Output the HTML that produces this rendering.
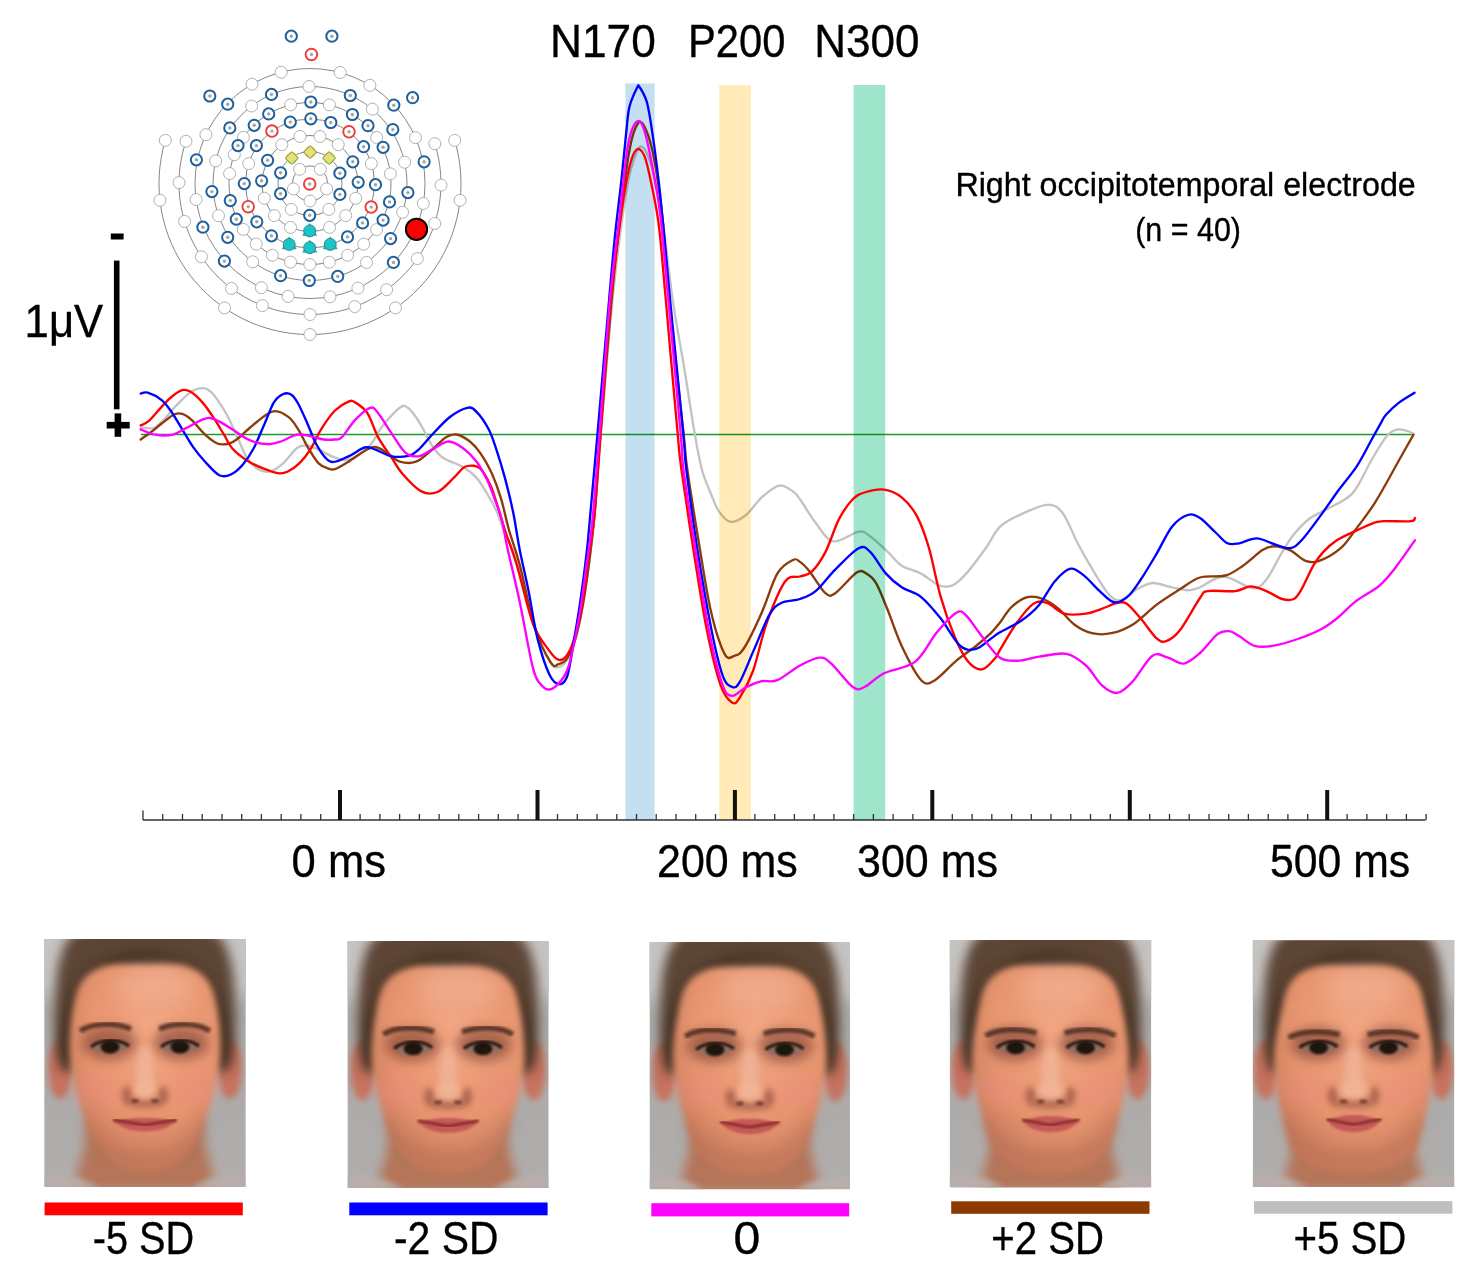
<!DOCTYPE html><html><head><meta charset="utf-8"><style>html,body{margin:0;padding:0;background:#fff;overflow:hidden}svg{display:block}text{font-family:"Liberation Sans",sans-serif}</style></head><body>
<svg width="1483" height="1279" viewBox="0 0 1483 1279">
<defs>
<filter id="b1" x="-20%" y="-20%" width="140%" height="140%"><feGaussianBlur stdDeviation="1.2"/></filter>
<filter id="b2b" x="-30%" y="-30%" width="160%" height="160%"><feGaussianBlur stdDeviation="1.8"/></filter>
<filter id="b2" x="-60%" y="-60%" width="220%" height="220%"><feGaussianBlur stdDeviation="3"/></filter>
<filter id="b3" x="-100%" y="-100%" width="300%" height="300%"><feGaussianBlur stdDeviation="6"/></filter>
<filter id="b4" x="-100%" y="-100%" width="300%" height="300%"><feGaussianBlur stdDeviation="9"/></filter>
<linearGradient id="bg" x1="0" y1="0" x2="0" y2="1"><stop offset="0" stop-color="#a8a7a6"/><stop offset="1" stop-color="#b0aeac"/></linearGradient>
<radialGradient id="skin" cx="0.55" cy="0.32" r="0.72"><stop offset="0" stop-color="#f4a884"/><stop offset="0.6" stop-color="#e6946e"/><stop offset="1" stop-color="#c07458"/></radialGradient>
</defs>
<rect width="1483" height="1279" fill="#fff"/>
<path d="M143.0,820V810.5M162.7,820V814.0M182.5,820V814.0M202.2,820V814.0M222.0,820V814.0M241.7,820V814.0M261.4,820V814.0M281.2,820V814.0M300.9,820V814.0M320.7,820V814.0M340.4,820V814.0M360.1,820V814.0M379.9,820V814.0M399.6,820V814.0M419.4,820V814.0M439.1,820V814.0M458.8,820V814.0M478.6,820V814.0M498.3,820V814.0M518.1,820V814.0M537.8,820V814.0M557.5,820V814.0M577.3,820V814.0M597.0,820V814.0M616.8,820V814.0M636.5,820V814.0M656.2,820V814.0M676.0,820V814.0M695.7,820V814.0M715.5,820V814.0M735.2,820V814.0M754.9,820V814.0M774.7,820V814.0M794.4,820V814.0M814.2,820V814.0M833.9,820V814.0M853.6,820V814.0M873.4,820V814.0M893.1,820V814.0M912.9,820V814.0M932.6,820V814.0M952.3,820V814.0M972.1,820V814.0M991.8,820V814.0M1011.6,820V814.0M1031.3,820V814.0M1051.0,820V814.0M1070.8,820V814.0M1090.5,820V814.0M1110.3,820V814.0M1130.0,820V814.0M1149.7,820V814.0M1169.5,820V814.0M1189.2,820V814.0M1209.0,820V814.0M1228.7,820V814.0M1248.4,820V814.0M1268.2,820V814.0M1287.9,820V814.0M1307.7,820V814.0M1327.4,820V814.0M1347.1,820V814.0M1366.9,820V814.0M1386.6,820V814.0M1406.4,820V814.0M1426.1,820V814.0" stroke="#333" stroke-width="1.3" fill="none"/>
<path d="M143,820H1425.5" stroke="#333" stroke-width="1.6" fill="none"/>
<path d="M340.0,820V790M537.5,820V790M734.9,820V790M932.3,820V790M1129.8,820V790M1327.2,820V790" stroke="#111" stroke-width="4" fill="none"/>
<path d="M141,434.5H1412" stroke="#1a9a2a" stroke-width="1.6" fill="none"/>
<path d="M140.7,427.3 C142.9,427.4 149.9,429.4 153.9,428.0 C157.9,426.6 161.1,422.2 164.7,418.6 C168.3,415.0 171.0,410.9 175.5,406.4 C180.0,401.9 186.9,394.6 191.6,391.6 C196.3,388.6 200.2,387.8 203.8,388.2 C207.4,388.6 209.4,389.9 213.2,394.3 C217.0,398.7 222.6,407.3 226.7,414.5 C230.8,421.7 234.1,430.2 237.5,437.4 C240.9,444.6 243.3,452.3 246.9,457.7 C250.5,463.1 255.1,467.6 259.1,469.8 C263.2,472.0 267.2,472.2 271.2,471.1 C275.2,470.0 279.0,466.9 283.3,463.1 C287.6,459.3 293.0,451.1 296.8,448.2 C300.6,445.3 302.7,445.3 306.3,445.5 C309.9,445.7 313.6,447.6 318.4,449.6 C323.2,451.6 330.0,456.0 335.0,457.7 C340.0,459.4 342.9,461.5 348.5,459.7 C354.1,457.9 363.1,452.4 368.7,446.9 C374.3,441.4 377.0,433.1 382.2,426.6 C387.4,420.1 395.4,410.9 399.7,407.8 C404.0,404.7 404.6,405.6 407.8,407.8 C411.0,410.0 414.6,414.9 418.6,421.2 C422.7,427.5 428.1,439.4 432.1,445.5 C436.2,451.6 437.7,454.1 442.9,457.7 C448.1,461.3 457.5,463.7 463.1,467.1 C468.7,470.5 472.6,473.4 476.6,477.9 C480.7,482.4 484.0,488.5 487.4,494.1 C490.8,499.7 494.1,505.6 496.8,511.6 C499.5,517.6 500.1,521.3 503.6,530.0 C507.1,538.7 512.9,547.8 518.0,564.0 C523.1,580.2 528.7,610.7 534.0,627.0 C539.3,643.3 545.9,655.3 550.0,662.0 C554.1,668.7 555.6,667.4 558.4,667.1 C561.2,666.8 564.1,665.0 567.0,660.0 C569.9,655.0 573.0,648.3 576.0,637.0 C579.0,625.7 582.0,611.5 585.0,592.0 C588.0,572.5 591.3,546.3 594.0,520.0 C596.7,493.7 597.9,470.7 601.0,434.0 C604.1,397.3 608.3,340.4 612.5,300.0 C616.7,259.6 622.3,216.3 626.3,191.7 C630.3,167.1 633.6,159.3 636.6,152.2 C639.6,145.0 641.4,145.1 644.3,148.8 C647.2,152.5 650.8,163.2 653.8,174.6 C656.8,186.0 659.2,196.6 662.4,217.5 C665.5,238.4 669.2,275.5 672.7,300.0 C676.2,324.5 679.9,341.9 683.6,364.3 C687.3,386.7 691.7,416.6 694.8,434.2 C697.9,451.8 699.3,460.1 702.0,470.0 C704.7,479.9 708.0,486.6 710.8,493.5 C713.6,500.4 715.4,506.4 718.7,511.1 C722.0,515.8 725.9,521.1 730.4,521.8 C734.9,522.4 740.8,519.1 746.0,515.0 C751.2,510.9 756.2,502.3 761.7,497.4 C767.2,492.5 774.1,486.6 779.3,485.6 C784.5,484.6 789.5,489.2 793.0,491.5 C796.5,493.8 796.2,494.1 800.0,499.3 C803.8,504.5 810.1,515.8 815.6,522.8 C821.1,529.8 826.0,539.9 833.2,541.4 C840.4,542.9 852.5,532.4 858.7,531.6 C864.9,530.8 865.5,533.1 870.4,536.5 C875.3,539.9 882.8,547.2 888.0,552.1 C893.2,557.0 896.2,562.2 901.7,565.8 C907.2,569.4 915.0,570.4 921.2,573.6 C927.4,576.9 933.6,583.3 938.8,585.3 C944.0,587.2 947.9,587.2 952.5,585.3 C957.1,583.3 960.7,579.8 966.2,573.6 C971.7,567.4 980.1,556.0 985.7,548.2 C991.3,540.4 994.4,532.2 1000.0,526.7 C1005.6,521.2 1011.8,518.6 1019.6,515.0 C1027.4,511.4 1039.7,505.1 1046.9,504.8 C1054.1,504.5 1057.4,506.4 1062.6,513.0 C1067.8,519.6 1073.0,534.5 1078.2,544.3 C1083.4,554.1 1088.6,563.2 1093.8,571.7 C1099.0,580.2 1104.9,590.4 1109.5,595.1 C1114.1,599.8 1116.6,601.0 1121.2,600.0 C1125.8,599.0 1131.7,592.1 1136.9,589.3 C1142.1,586.5 1146.7,583.3 1152.5,583.0 C1158.3,582.7 1166.1,586.1 1172.0,587.3 C1177.9,588.5 1183.0,590.2 1187.7,590.2 C1192.4,590.2 1194.0,589.6 1200.0,587.3 C1206.0,585.0 1214.6,576.4 1223.4,576.5 C1232.2,576.6 1245.6,587.7 1252.8,588.2 C1260.0,588.7 1261.5,585.4 1266.4,579.4 C1271.3,573.4 1277.5,559.6 1282.1,552.1 C1286.7,544.6 1289.2,540.0 1293.8,534.5 C1298.3,529.0 1303.9,523.0 1309.4,518.8 C1314.9,514.6 1319.8,513.3 1327.0,509.1 C1334.2,504.9 1345.1,501.4 1352.4,493.4 C1359.7,485.4 1365.4,470.4 1371.0,461.0 C1376.6,451.6 1382.0,442.0 1386.2,436.8 C1390.4,431.6 1392.9,430.7 1396.3,429.7 C1399.7,428.7 1403.5,430.0 1406.4,430.7 C1409.3,431.4 1412.3,433.2 1413.5,433.7" stroke="#c3c3c3" stroke-width="2.35" fill="none" stroke-linejoin="round" stroke-linecap="round"/>
<path d="M140.7,439.5 C142.4,438.2 147.6,434.7 151.2,432.0 C154.8,429.3 158.2,426.2 162.0,423.3 C165.8,420.4 170.7,416.1 174.1,414.5 C177.5,412.9 179.3,412.9 182.2,413.8 C185.1,414.7 187.8,416.4 191.6,419.9 C195.4,423.4 200.8,430.8 205.1,434.7 C209.4,438.6 213.2,442.0 217.3,443.5 C221.4,445.0 226.0,444.3 229.4,443.5 C232.8,442.7 234.1,441.4 237.5,438.8 C240.9,436.2 245.1,431.8 249.6,428.0 C254.1,424.2 260.2,418.7 264.5,415.9 C268.8,413.1 271.3,410.9 275.3,411.1 C279.3,411.3 284.9,414.2 288.7,417.2 C292.5,420.2 295.0,424.4 298.2,429.3 C301.4,434.2 304.2,441.3 307.6,446.9 C311.0,452.5 315.0,459.5 318.4,463.1 C321.8,466.7 325.1,467.4 327.9,468.4 C330.7,469.4 331.6,470.2 335.0,469.1 C338.4,468.0 342.2,465.4 348.5,461.7 C354.8,458.0 366.1,448.3 372.8,447.1 C379.5,445.9 384.4,451.9 388.9,454.3 C393.4,456.7 395.2,460.5 399.7,461.7 C404.2,462.9 410.5,463.7 415.9,461.7 C421.3,459.7 427.2,453.7 432.1,449.6 C437.1,445.6 441.6,439.9 445.6,437.4 C449.7,434.9 452.3,433.8 456.4,434.5 C460.4,435.2 465.8,438.3 469.9,441.5 C473.9,444.7 477.1,448.4 480.7,453.6 C484.3,458.8 488.0,465.1 491.4,472.5 C494.8,479.9 498.0,488.5 500.9,498.1 C503.8,507.7 505.9,518.9 509.0,530.0 C512.1,541.1 515.4,548.4 519.7,564.6 C524.0,580.8 529.4,610.6 534.6,627.0 C539.8,643.4 546.9,656.5 550.9,662.7 C554.9,668.9 555.7,665.0 558.4,664.2 C561.1,663.5 564.3,662.9 567.3,658.2 C570.3,653.5 573.2,647.0 576.2,635.9 C579.2,624.8 582.1,610.6 585.1,591.3 C588.1,572.0 591.4,546.2 594.0,520.0 C596.6,493.8 597.6,470.7 600.5,434.0 C603.4,397.3 608.3,336.1 611.6,300.0 C614.9,263.9 617.2,242.7 620.2,217.5 C623.2,192.3 626.7,164.6 629.7,148.8 C632.7,133.1 635.6,126.2 638.3,123.0 C641.0,119.8 643.4,124.2 646.0,129.9 C648.6,135.6 651.1,142.8 653.8,157.4 C656.5,172.0 659.8,193.7 662.4,217.5 C665.0,241.3 665.7,263.9 669.2,300.0 C672.7,336.1 680.6,405.9 683.6,434.2 C686.6,462.5 684.8,451.6 687.4,470.0 C690.0,488.4 695.2,520.8 699.1,544.3 C703.0,567.8 706.6,592.5 710.8,610.8 C715.0,629.0 720.6,646.3 724.5,653.8 C728.4,661.3 731.0,656.8 734.3,655.8 C737.6,654.8 739.5,655.2 744.1,648.0 C748.7,640.8 756.2,625.1 761.7,612.7 C767.2,600.3 772.1,582.4 777.3,573.6 C782.5,564.8 789.2,562.0 793.0,560.0 C796.8,558.0 797.2,559.9 800.0,561.9 C802.8,563.9 805.6,566.5 809.8,571.7 C814.0,576.9 821.2,589.6 825.4,593.2 C829.6,596.8 830.0,596.6 835.2,593.2 C840.4,589.8 851.5,575.9 856.7,572.6 C861.9,569.3 863.2,571.8 866.5,573.6 C869.8,575.4 872.6,577.2 876.2,583.4 C879.8,589.6 883.8,600.4 888.0,610.8 C892.2,621.2 896.2,634.4 901.7,646.0 C907.2,657.6 915.7,674.5 921.2,680.2 C926.7,685.9 929.0,683.5 934.9,680.2 C940.8,676.9 949.5,666.3 956.4,660.6 C963.2,654.9 970.1,650.7 976.0,646.0 C981.9,641.3 987.6,636.2 991.6,632.3 C995.6,628.4 996.6,626.7 1000.0,622.5 C1003.4,618.3 1007.1,611.1 1011.7,606.9 C1016.3,602.7 1022.2,598.4 1027.4,597.1 C1032.6,595.8 1037.8,597.0 1043.0,599.0 C1048.2,601.0 1053.5,604.5 1058.7,608.8 C1063.9,613.0 1068.8,620.4 1074.3,624.5 C1079.8,628.6 1085.7,631.8 1091.9,633.2 C1098.1,634.7 1104.6,634.7 1111.4,633.2 C1118.2,631.8 1125.4,629.2 1132.9,624.5 C1140.4,619.8 1148.6,610.8 1156.4,604.9 C1164.2,599.0 1172.6,593.9 1179.9,589.3 C1187.2,584.7 1192.4,579.8 1200.0,577.5 C1207.6,575.2 1218.2,577.5 1225.4,575.5 C1232.6,573.5 1236.8,569.9 1243.0,565.7 C1249.2,561.5 1257.3,553.4 1262.5,550.1 C1267.7,546.9 1269.6,546.2 1274.2,546.2 C1278.8,546.2 1284.7,547.7 1289.9,550.1 C1295.1,552.5 1300.6,559.1 1305.5,560.9 C1310.4,562.7 1313.3,563.0 1319.2,560.9 C1325.1,558.8 1334.5,553.6 1340.7,548.2 C1346.9,542.8 1350.5,536.4 1356.3,528.6 C1362.1,520.8 1368.3,513.4 1375.8,501.3 C1383.3,489.2 1395.1,467.1 1401.4,456.0 C1407.7,444.9 1411.5,438.2 1413.5,434.7" stroke="#8c3c0a" stroke-width="2.35" fill="none" stroke-linejoin="round" stroke-linecap="round"/>
<g style="mix-blend-mode:multiply">
<rect x="625.4" y="83.5" width="29.2" height="736.5" fill="#c5dff2"/>
<rect x="719.2" y="85.2" width="31.6" height="734.8" fill="#ffeab8"/>
<rect x="853.6" y="85" width="31.6" height="735" fill="#9fe5cb"/>
</g>
<path d="M140.7,425.3 C142.0,424.6 144.9,424.4 148.5,421.2 C152.1,418.0 158.2,410.4 162.0,406.4 C165.8,402.4 168.0,399.7 171.4,397.0 C174.8,394.3 179.0,391.1 182.2,390.2 C185.3,389.3 186.9,389.6 190.3,391.6 C193.7,393.6 198.6,398.1 202.4,402.4 C206.2,406.7 209.6,411.8 213.2,417.2 C216.8,422.6 220.8,429.5 224.0,434.7 C227.2,439.9 228.3,443.9 232.1,448.2 C235.9,452.5 241.7,457.0 246.9,460.4 C252.1,463.8 257.9,466.3 263.1,468.4 C268.3,470.5 273.9,472.6 278.0,473.2 C282.1,473.8 283.8,473.5 287.4,471.8 C291.0,470.1 295.7,466.8 299.5,463.1 C303.3,459.4 306.7,455.2 310.3,449.6 C313.9,444.0 317.0,435.8 321.1,429.3 C325.2,422.8 330.4,415.1 335.0,410.5 C339.6,405.9 345.1,403.1 348.5,401.7 C351.9,400.3 352.1,400.5 355.2,402.4 C358.3,404.3 363.6,407.4 367.4,413.2 C371.2,419.0 374.2,430.0 378.2,437.4 C382.2,444.8 387.6,451.6 391.6,457.7 C395.6,463.8 397.4,468.2 402.4,473.8 C407.3,479.4 415.4,488.4 421.3,491.4 C427.2,494.4 432.1,494.2 437.5,492.0 C442.9,489.8 449.2,482.0 453.7,477.9 C458.2,473.8 461.1,469.1 464.5,467.1 C467.9,465.1 471.2,465.5 473.9,465.8 C476.6,466.1 478.0,466.0 480.7,469.1 C483.4,472.2 487.4,478.9 490.1,484.6 C492.8,490.3 494.3,495.9 496.8,503.5 C499.3,511.1 501.6,519.8 504.9,530.0 C508.2,540.2 512.0,548.9 516.7,564.6 C521.4,580.3 527.7,609.6 533.1,624.0 C538.5,638.4 545.2,644.8 549.4,650.8 C553.6,656.8 555.7,658.7 558.4,659.7 C561.1,660.7 563.3,659.7 565.8,656.7 C568.3,653.7 570.5,650.6 573.2,641.9 C575.9,633.2 579.6,618.4 582.1,604.7 C584.6,591.1 586.0,574.1 588.0,560.0 C590.0,545.9 591.9,541.0 594.0,520.0 C596.1,499.0 597.7,470.7 600.5,434.0 C603.3,397.3 607.2,337.5 610.8,300.0 C614.4,262.5 618.9,231.2 622.0,208.9 C625.1,186.6 627.3,175.9 629.7,166.0 C632.1,156.1 634.2,151.3 636.6,149.6 C639.0,147.9 641.9,150.0 644.3,155.6 C646.7,161.2 648.8,171.3 651.2,183.1 C653.6,194.8 656.5,206.6 658.9,226.1 C661.3,245.6 662.7,265.3 665.8,300.0 C668.9,334.7 675.1,405.9 677.7,434.2 C680.3,462.5 678.9,451.0 681.5,470.0 C684.1,489.0 689.0,521.5 693.2,548.2 C697.4,574.9 702.3,607.5 706.9,630.3 C711.5,653.1 716.4,673.0 720.6,685.1 C724.9,697.2 729.1,700.8 732.4,702.7 C735.7,704.7 736.8,702.1 740.2,696.8 C743.6,691.5 748.5,683.5 753.0,671.0 C757.5,658.5 761.6,636.9 767.0,622.0 C772.4,607.1 779.6,589.1 785.1,581.5 C790.6,573.9 795.6,578.1 800.0,576.5 C804.4,574.9 807.5,575.8 811.7,571.7 C815.9,567.6 820.8,560.9 825.4,552.1 C830.0,543.3 834.5,527.7 839.1,518.9 C843.7,510.1 848.6,503.7 852.8,499.3 C857.0,494.9 859.3,494.1 864.5,492.5 C869.7,490.9 877.9,488.8 884.1,489.6 C890.3,490.4 896.2,492.8 901.7,497.4 C907.2,501.9 912.8,508.4 917.3,516.9 C921.8,525.4 925.1,534.8 929.0,548.2 C932.9,561.6 936.5,582.4 940.8,597.1 C945.0,611.8 950.0,625.5 954.5,636.2 C959.0,647.0 963.6,656.1 968.1,661.6 C972.6,667.1 977.2,670.0 981.8,669.4 C986.4,668.8 992.5,661.0 995.5,657.7 C998.5,654.5 996.6,655.4 1000.0,649.9 C1003.4,644.4 1010.1,632.2 1015.6,624.5 C1021.1,616.8 1028.0,607.5 1033.2,603.9 C1038.4,600.3 1041.7,601.3 1046.9,602.9 C1052.1,604.5 1058.0,611.9 1064.5,613.7 C1071.0,615.5 1079.8,614.5 1086.0,613.7 C1092.2,612.9 1096.5,610.6 1101.7,608.8 C1106.9,607.0 1113.1,603.7 1117.3,602.9 C1121.5,602.1 1123.2,601.3 1127.1,603.9 C1131.0,606.5 1135.9,612.9 1140.8,618.6 C1145.7,624.3 1152.2,634.4 1156.4,638.1 C1160.6,641.9 1162.3,642.4 1166.2,641.1 C1170.1,639.8 1174.3,637.5 1179.9,630.3 C1185.5,623.1 1195.3,604.5 1200.0,598.0 C1204.7,591.5 1201.9,592.2 1207.8,591.1 C1213.7,590.0 1228.0,591.9 1235.2,591.1 C1242.4,590.3 1245.6,586.3 1250.8,586.3 C1256.0,586.3 1261.2,589.0 1266.4,591.1 C1271.6,593.2 1277.5,597.7 1282.1,599.0 C1286.7,600.3 1290.5,600.6 1293.8,599.0 C1297.0,597.4 1298.3,594.8 1301.6,589.2 C1304.8,583.7 1309.7,571.9 1313.3,565.7 C1316.9,559.5 1319.2,556.3 1323.1,552.1 C1327.0,547.9 1331.3,543.9 1336.8,540.3 C1342.3,536.7 1350.1,533.5 1356.3,530.6 C1362.5,527.7 1369.3,524.4 1373.9,522.8 C1378.5,521.2 1377.5,521.5 1383.7,521.2 C1389.9,520.9 1405.8,521.8 1411.0,521.2 C1416.2,520.7 1414.2,518.5 1414.9,517.9" stroke="#ff0000" stroke-width="2.35" fill="none" stroke-linejoin="round" stroke-linecap="round"/>
<path d="M140.7,393.6 C141.9,393.5 144.2,391.6 147.8,392.7 C151.4,393.8 158.1,397.1 162.0,400.3 C165.9,403.5 168.0,407.0 171.4,411.8 C174.8,416.6 178.6,423.5 182.2,429.3 C185.8,435.1 189.2,441.5 193.0,446.9 C196.8,452.3 200.7,457.0 205.1,461.7 C209.5,466.4 215.0,473.1 219.3,475.2 C223.6,477.3 226.9,476.3 230.8,474.5 C234.7,472.7 239.1,468.8 242.9,464.4 C246.7,460.0 250.1,454.9 253.7,448.2 C257.3,441.4 261.1,431.5 264.5,423.9 C267.9,416.3 270.8,407.4 273.9,402.4 C277.0,397.4 280.4,395.3 283.3,394.0 C286.2,392.7 288.9,393.1 291.4,394.7 C293.9,396.3 295.5,398.8 298.2,403.7 C300.9,408.6 304.5,416.9 307.6,423.9 C310.7,430.9 313.2,439.2 317.0,445.5 C320.8,451.8 325.2,459.9 330.5,461.7 C335.8,463.5 342.8,458.7 348.5,456.3 C354.2,453.9 360.2,448.6 364.7,447.5 C369.2,446.4 371.0,448.1 375.5,449.6 C380.0,451.1 386.0,455.3 391.6,456.3 C397.2,457.3 404.7,456.7 409.2,455.6 C413.7,454.5 414.8,453.1 418.6,449.6 C422.4,446.1 426.9,440.1 432.1,434.7 C437.3,429.3 443.8,421.7 449.6,417.2 C455.5,412.7 462.7,408.7 467.2,407.8 C471.7,406.9 473.0,408.2 476.6,411.8 C480.2,415.4 485.3,422.8 488.7,429.3 C492.1,435.8 494.1,442.8 496.8,450.9 C499.5,459.0 502.2,467.8 504.9,477.9 C507.6,488.0 510.5,499.6 513.0,511.6 C515.5,523.6 517.1,536.4 519.7,549.7 C522.3,563.0 525.6,576.4 528.6,591.3 C531.6,606.2 534.1,625.0 537.6,638.9 C541.1,652.8 545.8,667.0 549.4,674.6 C553.0,682.2 556.1,684.0 559.1,684.2 C562.1,684.4 564.9,682.9 567.3,676.0 C569.7,669.1 571.3,655.7 573.5,643.0 C575.7,630.3 578.1,617.2 580.5,600.0 C582.9,582.8 585.2,567.7 588.0,540.0 C590.8,512.3 594.0,474.0 597.5,434.0 C601.0,394.0 606.2,333.2 609.1,300.0 C612.0,266.8 613.1,254.2 615.1,234.7 C617.1,215.2 619.2,200.3 621.1,183.1 C623.0,165.9 624.9,144.5 626.3,131.6 C627.7,118.7 627.7,113.5 629.7,105.8 C631.7,98.1 638.3,85.2 638.3,85.2 C638.3,85.2 644.5,93.7 646.9,102.3 C649.3,110.9 650.9,123.2 652.9,136.7 C654.9,150.2 657.0,166.8 658.9,183.1 C660.8,199.4 662.2,215.2 664.1,234.7 C666.0,254.2 666.9,266.8 670.1,300.0 C673.3,333.2 680.6,405.7 683.3,434.0 C686.0,462.3 684.1,451.0 686.4,470.0 C688.7,489.0 693.1,522.1 697.2,548.2 C701.3,574.3 706.6,605.2 710.8,626.4 C715.0,647.6 719.0,665.2 722.6,675.3 C726.2,685.4 729.5,686.1 732.4,687.1 C735.3,688.1 736.6,687.4 740.2,681.2 C743.8,675.0 749.0,661.0 753.9,649.9 C758.8,638.8 765.0,622.5 769.5,614.7 C774.0,606.9 776.1,605.6 781.2,603.0 C786.3,600.4 794.3,601.0 800.0,599.0 C805.7,597.0 809.7,596.1 815.6,591.2 C821.5,586.3 828.0,576.9 835.2,569.7 C842.4,562.5 852.8,551.1 858.7,548.2 C864.6,545.3 865.9,547.9 870.4,552.1 C874.9,556.3 880.8,567.7 886.0,573.6 C891.2,579.5 895.8,583.4 901.7,587.3 C907.6,591.2 914.7,591.9 921.2,597.1 C927.7,602.3 934.3,610.5 940.8,618.6 C947.3,626.8 954.4,641.0 960.3,646.0 C966.2,651.0 970.8,650.2 976.0,648.9 C981.2,647.6 987.6,640.9 991.6,638.1 C995.6,635.3 995.0,635.2 1000.0,632.3 C1005.0,629.4 1015.0,625.1 1021.5,620.5 C1028.0,615.9 1033.6,611.4 1039.1,604.9 C1044.6,598.4 1049.5,587.4 1054.7,581.4 C1059.9,575.4 1065.5,569.7 1070.4,568.7 C1075.3,567.7 1079.5,572.2 1084.1,575.6 C1088.7,579.0 1092.9,584.9 1097.8,589.3 C1102.7,593.7 1108.5,600.7 1113.4,602.0 C1118.3,603.3 1122.5,600.9 1127.1,597.1 C1131.7,593.4 1135.9,586.7 1140.8,579.5 C1145.7,572.3 1151.2,562.9 1156.4,554.1 C1161.6,545.3 1166.8,533.2 1172.0,526.7 C1177.2,520.2 1183.0,516.5 1187.7,515.0 C1192.4,513.5 1195.3,515.0 1200.0,517.9 C1204.7,520.8 1211.0,528.3 1215.6,532.5 C1220.2,536.7 1223.5,541.5 1227.4,543.3 C1231.3,545.1 1234.2,544.1 1239.1,543.3 C1244.0,542.5 1250.8,538.2 1256.7,538.4 C1262.6,538.5 1268.7,542.6 1274.2,544.2 C1279.7,545.8 1285.3,548.9 1289.9,548.2 C1294.5,547.6 1296.4,545.8 1301.6,540.3 C1306.8,534.8 1314.9,523.3 1321.1,514.9 C1327.3,506.5 1332.7,498.1 1338.7,490.0 C1344.7,481.9 1351.5,474.3 1356.9,466.1 C1362.3,457.9 1367.0,448.1 1371.0,440.8 C1375.0,433.6 1378.6,427.0 1381.1,422.6 C1383.6,418.2 1383.2,417.9 1386.2,414.5 C1389.2,411.1 1394.6,406.0 1399.3,402.4 C1404.0,398.8 1412.0,394.4 1414.5,392.8" stroke="#0000ff" stroke-width="2.35" fill="none" stroke-linejoin="round" stroke-linecap="round"/>
<path d="M140.7,429.3 C143.1,430.2 149.8,433.8 155.2,434.7 C160.5,435.6 167.6,435.8 172.8,434.7 C178.0,433.6 180.8,430.7 186.2,428.0 C191.6,425.3 200.1,420.0 205.1,418.6 C210.1,417.2 211.4,418.1 215.9,419.9 C220.4,421.7 226.5,425.9 232.1,429.3 C237.7,432.7 243.8,437.6 249.6,440.1 C255.4,442.6 262.0,444.0 267.2,444.2 C272.4,444.4 275.8,443.1 280.7,441.5 C285.6,439.9 291.9,435.6 296.8,434.7 C301.7,433.8 305.8,435.3 310.3,436.1 C314.8,436.9 319.7,438.9 323.8,439.5 C327.9,440.1 332.0,439.9 335.0,439.5 C338.0,439.1 338.3,440.7 341.7,437.4 C345.1,434.1 350.5,424.8 355.2,419.9 C359.9,415.0 366.3,408.9 370.1,407.8 C373.9,406.7 374.6,408.9 378.2,413.2 C381.8,417.5 387.1,426.9 391.6,433.4 C396.1,439.9 400.6,448.5 405.1,452.3 C409.6,456.1 414.1,456.8 418.6,456.3 C423.1,455.9 427.2,452.1 432.1,449.6 C437.1,447.1 443.1,441.7 448.3,441.5 C453.5,441.3 458.4,444.8 463.1,448.2 C467.8,451.6 472.6,456.3 476.6,461.7 C480.7,467.1 484.0,473.4 487.4,480.6 C490.8,487.8 494.4,498.3 496.8,504.9 C499.2,511.5 500.1,512.5 501.9,520.0 C503.7,527.5 504.8,536.1 507.8,549.7 C510.8,563.3 515.5,581.9 519.7,601.7 C523.9,621.5 529.4,654.6 533.1,668.6 C536.8,682.6 539.1,682.2 542.0,685.7 C544.9,689.2 547.2,690.0 550.2,689.4 C553.2,688.8 556.7,686.0 559.8,682.0 C562.9,678.0 565.6,676.5 568.8,665.6 C572.0,654.7 576.2,633.4 579.2,616.6 C582.2,599.8 584.4,580.7 586.6,564.6 C588.8,548.5 590.4,541.8 592.5,520.0 C594.6,498.2 596.6,470.7 599.5,434.0 C602.4,397.3 606.6,336.1 609.9,300.0 C613.2,263.9 616.4,243.3 619.4,217.5 C622.4,191.7 625.0,161.3 628.0,145.3 C631.0,129.3 634.5,123.3 637.4,121.3 C640.3,119.3 642.5,124.4 645.2,133.3 C647.9,142.2 651.2,160.6 653.8,174.6 C656.4,188.6 658.2,196.6 660.6,217.5 C663.0,238.4 665.0,263.9 668.4,300.0 C671.8,336.1 678.2,405.9 680.7,434.2 C683.2,462.5 681.1,451.0 683.5,470.0 C685.9,489.0 691.0,521.5 695.2,548.2 C699.4,574.9 704.3,607.5 708.9,630.3 C713.5,653.1 718.7,674.2 722.6,685.1 C726.5,696.0 728.5,695.5 732.4,695.8 C736.3,696.1 741.1,689.5 746.0,687.1 C750.9,684.7 756.5,682.4 761.7,681.2 C766.9,680.1 770.9,682.8 777.3,680.2 C783.7,677.6 793.0,669.2 800.0,665.5 C807.0,661.8 814.4,658.0 819.6,657.7 C824.8,657.4 825.8,658.7 831.3,663.6 C836.8,668.5 847.3,683.1 852.8,687.0 C858.3,690.9 859.3,689.3 864.5,687.0 C869.7,684.7 875.6,677.5 884.1,673.3 C892.6,669.1 906.5,668.4 915.3,661.6 C924.1,654.8 930.0,640.4 936.9,632.3 C943.8,624.1 951.5,615.5 956.4,612.7 C961.3,609.9 962.0,611.7 966.2,615.6 C970.4,619.5 976.2,629.2 981.8,636.2 C987.4,643.2 993.7,653.6 1000.0,657.7 C1006.3,661.8 1013.1,660.8 1019.6,660.6 C1026.1,660.4 1031.3,657.8 1039.1,656.7 C1046.9,655.6 1058.7,652.3 1066.5,653.8 C1074.3,655.3 1080.1,660.3 1086.0,665.5 C1091.9,670.7 1096.5,680.5 1101.7,685.1 C1106.9,689.7 1112.1,693.5 1117.3,692.9 C1122.5,692.2 1127.0,687.4 1132.9,681.2 C1138.8,675.0 1146.6,659.6 1152.5,655.7 C1158.4,651.8 1162.9,656.4 1168.1,657.7 C1173.3,659.0 1178.5,664.4 1183.8,663.6 C1189.1,662.8 1194.4,657.9 1200.0,653.0 C1205.6,648.1 1212.7,637.7 1217.6,634.1 C1222.5,630.5 1225.7,630.9 1229.3,631.2 C1232.9,631.5 1234.9,633.7 1239.1,636.1 C1243.3,638.5 1249.2,644.3 1254.7,645.9 C1260.2,647.5 1265.1,647.0 1272.3,645.9 C1279.5,644.8 1289.6,641.8 1297.7,639.0 C1305.8,636.2 1314.6,632.6 1321.1,629.2 C1327.6,625.8 1330.9,623.2 1336.8,618.5 C1342.7,613.8 1349.1,606.4 1356.3,600.9 C1363.5,595.4 1373.3,590.8 1379.8,585.3 C1386.3,579.8 1389.6,575.2 1395.4,567.7 C1401.2,560.2 1411.7,544.9 1414.9,540.3" stroke="#ff00ff" stroke-width="2.35" fill="none" stroke-linejoin="round" stroke-linecap="round"/>
<rect x="110.8" y="233.5" width="12.8" height="6" fill="#000"/>
<rect x="113.9" y="260.6" width="5.6" height="148.7" fill="#000"/>
<rect x="106.7" y="421.9" width="23" height="6.6" fill="#000"/>
<rect x="114.6" y="413.4" width="6.6" height="23.4" fill="#000"/>
<g>
<circle cx="310.0" cy="183.5" r="17.5" fill="none" stroke="#666" stroke-width="0.8"/>
<circle cx="310.0" cy="183.5" r="32.0" fill="none" stroke="#666" stroke-width="0.8"/>
<circle cx="310.0" cy="183.5" r="48.0" fill="none" stroke="#666" stroke-width="0.8"/>
<circle cx="310.0" cy="183.5" r="64.5" fill="none" stroke="#666" stroke-width="0.8"/>
<circle cx="310.0" cy="183.5" r="81.0" fill="none" stroke="#666" stroke-width="0.8"/>
<circle cx="310.0" cy="183.5" r="97.0" fill="none" stroke="#666" stroke-width="0.8"/>
<circle cx="310.0" cy="183.5" r="115.0" fill="none" stroke="#666" stroke-width="0.8"/>
<path d="M434.9,144.1 A131.0,131.0 0 1 1 184.7,145.2" fill="none" stroke="#666" stroke-width="0.8"/>
<path d="M454.7,140.4 A151.0,151.0 0 1 1 165.3,140.4" fill="none" stroke="#666" stroke-width="0.8"/>
<circle cx="299.7" cy="169.3" r="6" fill="#fff" stroke="#a8a8a8" stroke-width="0.9"/>
<circle cx="320.3" cy="169.3" r="6" fill="#fff" stroke="#a8a8a8" stroke-width="0.9"/>
<circle cx="326.6" cy="188.9" r="6" fill="#fff" stroke="#a8a8a8" stroke-width="0.9"/>
<circle cx="310.0" cy="201.0" r="6" fill="#fff" stroke="#a8a8a8" stroke-width="0.9"/>
<circle cx="293.4" cy="188.9" r="6" fill="#fff" stroke="#a8a8a8" stroke-width="0.9"/>
<circle cx="328.8" cy="209.4" r="6" fill="#fff" stroke="#a8a8a8" stroke-width="0.9"/>
<circle cx="291.2" cy="209.4" r="6" fill="#fff" stroke="#a8a8a8" stroke-width="0.9"/>
<circle cx="290.5" cy="227.4" r="6" fill="#fff" stroke="#a8a8a8" stroke-width="0.9"/>
<circle cx="274.3" cy="215.6" r="6" fill="#fff" stroke="#a8a8a8" stroke-width="0.9"/>
<circle cx="264.3" cy="198.3" r="6" fill="#fff" stroke="#a8a8a8" stroke-width="0.9"/>
<circle cx="281.8" cy="144.7" r="6" fill="#fff" stroke="#a8a8a8" stroke-width="0.9"/>
<circle cx="300.0" cy="136.5" r="6" fill="#fff" stroke="#a8a8a8" stroke-width="0.9"/>
<circle cx="320.0" cy="136.5" r="6" fill="#fff" stroke="#a8a8a8" stroke-width="0.9"/>
<circle cx="338.2" cy="144.7" r="6" fill="#fff" stroke="#a8a8a8" stroke-width="0.9"/>
<circle cx="355.7" cy="198.3" r="6" fill="#fff" stroke="#a8a8a8" stroke-width="0.9"/>
<circle cx="345.7" cy="215.6" r="6" fill="#fff" stroke="#a8a8a8" stroke-width="0.9"/>
<circle cx="329.5" cy="227.4" r="6" fill="#fff" stroke="#a8a8a8" stroke-width="0.9"/>
<circle cx="248.7" cy="163.6" r="6" fill="#fff" stroke="#a8a8a8" stroke-width="0.9"/>
<circle cx="371.3" cy="163.6" r="6" fill="#fff" stroke="#a8a8a8" stroke-width="0.9"/>
<circle cx="329.4" cy="104.9" r="6" fill="#fff" stroke="#a8a8a8" stroke-width="0.9"/>
<circle cx="376.7" cy="137.5" r="6" fill="#fff" stroke="#a8a8a8" stroke-width="0.9"/>
<circle cx="390.4" cy="173.8" r="6" fill="#fff" stroke="#a8a8a8" stroke-width="0.9"/>
<circle cx="376.6" cy="229.6" r="6" fill="#fff" stroke="#a8a8a8" stroke-width="0.9"/>
<circle cx="363.7" cy="244.2" r="6" fill="#fff" stroke="#a8a8a8" stroke-width="0.9"/>
<circle cx="347.6" cy="255.2" r="6" fill="#fff" stroke="#a8a8a8" stroke-width="0.9"/>
<circle cx="329.3" cy="262.2" r="6" fill="#fff" stroke="#a8a8a8" stroke-width="0.9"/>
<circle cx="309.9" cy="264.5" r="6" fill="#fff" stroke="#a8a8a8" stroke-width="0.9"/>
<circle cx="290.5" cy="262.1" r="6" fill="#fff" stroke="#a8a8a8" stroke-width="0.9"/>
<circle cx="272.3" cy="255.2" r="6" fill="#fff" stroke="#a8a8a8" stroke-width="0.9"/>
<circle cx="256.2" cy="244.1" r="6" fill="#fff" stroke="#a8a8a8" stroke-width="0.9"/>
<circle cx="243.3" cy="229.4" r="6" fill="#fff" stroke="#a8a8a8" stroke-width="0.9"/>
<circle cx="229.6" cy="173.6" r="6" fill="#fff" stroke="#a8a8a8" stroke-width="0.9"/>
<circle cx="234.3" cy="154.7" r="6" fill="#fff" stroke="#a8a8a8" stroke-width="0.9"/>
<circle cx="243.4" cy="137.4" r="6" fill="#fff" stroke="#a8a8a8" stroke-width="0.9"/>
<circle cx="290.7" cy="104.8" r="6" fill="#fff" stroke="#a8a8a8" stroke-width="0.9"/>
<circle cx="215.7" cy="160.9" r="6" fill="#fff" stroke="#a8a8a8" stroke-width="0.9"/>
<circle cx="251.6" cy="106.0" r="6" fill="#fff" stroke="#a8a8a8" stroke-width="0.9"/>
<circle cx="309.0" cy="86.5" r="6" fill="#fff" stroke="#a8a8a8" stroke-width="0.9"/>
<circle cx="372.4" cy="109.2" r="6" fill="#fff" stroke="#a8a8a8" stroke-width="0.9"/>
<circle cx="404.6" cy="162.2" r="6" fill="#fff" stroke="#a8a8a8" stroke-width="0.9"/>
<circle cx="402.6" cy="212.3" r="6" fill="#fff" stroke="#a8a8a8" stroke-width="0.9"/>
<circle cx="366.5" cy="262.4" r="6" fill="#fff" stroke="#a8a8a8" stroke-width="0.9"/>
<circle cx="252.7" cy="261.8" r="6" fill="#fff" stroke="#a8a8a8" stroke-width="0.9"/>
<circle cx="218.5" cy="215.7" r="6" fill="#fff" stroke="#a8a8a8" stroke-width="0.9"/>
<circle cx="205.9" cy="134.7" r="6" fill="#fff" stroke="#a8a8a8" stroke-width="0.9"/>
<circle cx="252.0" cy="84.2" r="6" fill="#fff" stroke="#a8a8a8" stroke-width="0.9"/>
<circle cx="281.2" cy="72.2" r="6" fill="#fff" stroke="#a8a8a8" stroke-width="0.9"/>
<circle cx="340.2" cy="72.5" r="6" fill="#fff" stroke="#a8a8a8" stroke-width="0.9"/>
<circle cx="369.9" cy="85.3" r="6" fill="#fff" stroke="#a8a8a8" stroke-width="0.9"/>
<circle cx="415.5" cy="137.6" r="6" fill="#fff" stroke="#a8a8a8" stroke-width="0.9"/>
<circle cx="423.3" cy="203.5" r="6" fill="#fff" stroke="#a8a8a8" stroke-width="0.9"/>
<circle cx="357.9" cy="288.1" r="6" fill="#fff" stroke="#a8a8a8" stroke-width="0.9"/>
<circle cx="330.0" cy="296.8" r="6" fill="#fff" stroke="#a8a8a8" stroke-width="0.9"/>
<circle cx="288.1" cy="296.4" r="6" fill="#fff" stroke="#a8a8a8" stroke-width="0.9"/>
<circle cx="261.4" cy="287.7" r="6" fill="#fff" stroke="#a8a8a8" stroke-width="0.9"/>
<circle cx="196.1" cy="199.5" r="6" fill="#fff" stroke="#a8a8a8" stroke-width="0.9"/>
<circle cx="434.8" cy="143.7" r="6" fill="#fff" stroke="#a8a8a8" stroke-width="0.9"/>
<circle cx="441.0" cy="185.1" r="6" fill="#fff" stroke="#a8a8a8" stroke-width="0.9"/>
<circle cx="434.7" cy="223.5" r="6" fill="#fff" stroke="#a8a8a8" stroke-width="0.9"/>
<circle cx="417.3" cy="258.6" r="6" fill="#fff" stroke="#a8a8a8" stroke-width="0.9"/>
<circle cx="386.6" cy="289.7" r="6" fill="#fff" stroke="#a8a8a8" stroke-width="0.9"/>
<circle cx="354.8" cy="306.6" r="6" fill="#fff" stroke="#a8a8a8" stroke-width="0.9"/>
<circle cx="310.0" cy="314.5" r="6" fill="#fff" stroke="#a8a8a8" stroke-width="0.9"/>
<circle cx="262.4" cy="305.6" r="6" fill="#fff" stroke="#a8a8a8" stroke-width="0.9"/>
<circle cx="231.5" cy="288.4" r="6" fill="#fff" stroke="#a8a8a8" stroke-width="0.9"/>
<circle cx="201.4" cy="256.8" r="6" fill="#fff" stroke="#a8a8a8" stroke-width="0.9"/>
<circle cx="184.6" cy="221.4" r="6" fill="#fff" stroke="#a8a8a8" stroke-width="0.9"/>
<circle cx="179.0" cy="182.6" r="6" fill="#fff" stroke="#a8a8a8" stroke-width="0.9"/>
<circle cx="186.0" cy="141.3" r="6" fill="#fff" stroke="#a8a8a8" stroke-width="0.9"/>
<circle cx="454.7" cy="140.4" r="6" fill="#fff" stroke="#a8a8a8" stroke-width="0.9"/>
<circle cx="460.1" cy="200.3" r="6" fill="#fff" stroke="#a8a8a8" stroke-width="0.9"/>
<circle cx="395.5" cy="307.9" r="6" fill="#fff" stroke="#a8a8a8" stroke-width="0.9"/>
<circle cx="310.0" cy="334.5" r="6" fill="#fff" stroke="#a8a8a8" stroke-width="0.9"/>
<circle cx="224.5" cy="307.9" r="6" fill="#fff" stroke="#a8a8a8" stroke-width="0.9"/>
<circle cx="159.9" cy="200.3" r="6" fill="#fff" stroke="#a8a8a8" stroke-width="0.9"/>
<circle cx="165.3" cy="140.4" r="6" fill="#fff" stroke="#a8a8a8" stroke-width="0.9"/>
<circle cx="291.3" cy="36.2" r="5.6" fill="#fff" stroke="#1f5f9a" stroke-width="2"/><circle cx="291.3" cy="36.2" r="1.7" fill="#a0a4a4"/>
<circle cx="331.9" cy="36.2" r="5.6" fill="#fff" stroke="#1f5f9a" stroke-width="2"/><circle cx="331.9" cy="36.2" r="1.7" fill="#a0a4a4"/>
<circle cx="209.8" cy="96.0" r="5.6" fill="#fff" stroke="#1f5f9a" stroke-width="2"/><circle cx="209.8" cy="96.0" r="1.7" fill="#a0a4a4"/>
<circle cx="227.7" cy="104.2" r="5.6" fill="#fff" stroke="#1f5f9a" stroke-width="2"/><circle cx="227.7" cy="104.2" r="1.7" fill="#a0a4a4"/>
<circle cx="271.5" cy="94.4" r="5.6" fill="#fff" stroke="#1f5f9a" stroke-width="2"/><circle cx="271.5" cy="94.4" r="1.7" fill="#a0a4a4"/>
<circle cx="350.3" cy="95.5" r="5.6" fill="#fff" stroke="#1f5f9a" stroke-width="2"/><circle cx="350.3" cy="95.5" r="1.7" fill="#a0a4a4"/>
<circle cx="393.8" cy="105.2" r="5.6" fill="#fff" stroke="#1f5f9a" stroke-width="2"/><circle cx="393.8" cy="105.2" r="1.7" fill="#a0a4a4"/>
<circle cx="412.6" cy="97.7" r="5.6" fill="#fff" stroke="#1f5f9a" stroke-width="2"/><circle cx="412.6" cy="97.7" r="1.7" fill="#a0a4a4"/>
<circle cx="310.8" cy="102.0" r="5.6" fill="#fff" stroke="#1f5f9a" stroke-width="2"/><circle cx="310.8" cy="102.0" r="1.7" fill="#a0a4a4"/>
<circle cx="268.7" cy="113.9" r="5.6" fill="#fff" stroke="#1f5f9a" stroke-width="2"/><circle cx="268.7" cy="113.9" r="1.7" fill="#a0a4a4"/>
<circle cx="352.4" cy="114.5" r="5.6" fill="#fff" stroke="#1f5f9a" stroke-width="2"/><circle cx="352.4" cy="114.5" r="1.7" fill="#a0a4a4"/>
<circle cx="310.8" cy="118.8" r="5.6" fill="#fff" stroke="#1f5f9a" stroke-width="2"/><circle cx="310.8" cy="118.8" r="1.7" fill="#a0a4a4"/>
<circle cx="290.3" cy="122.1" r="5.6" fill="#fff" stroke="#1f5f9a" stroke-width="2"/><circle cx="290.3" cy="122.1" r="1.7" fill="#a0a4a4"/>
<circle cx="330.8" cy="122.5" r="5.6" fill="#fff" stroke="#1f5f9a" stroke-width="2"/><circle cx="330.8" cy="122.5" r="1.7" fill="#a0a4a4"/>
<circle cx="254.2" cy="125.3" r="5.6" fill="#fff" stroke="#1f5f9a" stroke-width="2"/><circle cx="254.2" cy="125.3" r="1.7" fill="#a0a4a4"/>
<circle cx="229.8" cy="127.9" r="5.6" fill="#fff" stroke="#1f5f9a" stroke-width="2"/><circle cx="229.8" cy="127.9" r="1.7" fill="#a0a4a4"/>
<circle cx="368.0" cy="125.7" r="5.6" fill="#fff" stroke="#1f5f9a" stroke-width="2"/><circle cx="368.0" cy="125.7" r="1.7" fill="#a0a4a4"/>
<circle cx="392.8" cy="129.6" r="5.6" fill="#fff" stroke="#1f5f9a" stroke-width="2"/><circle cx="392.8" cy="129.6" r="1.7" fill="#a0a4a4"/>
<circle cx="238.0" cy="145.6" r="5.6" fill="#fff" stroke="#1f5f9a" stroke-width="2"/><circle cx="238.0" cy="145.6" r="1.7" fill="#a0a4a4"/>
<circle cx="256.4" cy="145.6" r="5.6" fill="#fff" stroke="#1f5f9a" stroke-width="2"/><circle cx="256.4" cy="145.6" r="1.7" fill="#a0a4a4"/>
<circle cx="363.6" cy="146.7" r="5.6" fill="#fff" stroke="#1f5f9a" stroke-width="2"/><circle cx="363.6" cy="146.7" r="1.7" fill="#a0a4a4"/>
<circle cx="383.1" cy="147.3" r="5.6" fill="#fff" stroke="#1f5f9a" stroke-width="2"/><circle cx="383.1" cy="147.3" r="1.7" fill="#a0a4a4"/>
<circle cx="196.4" cy="159.8" r="5.6" fill="#fff" stroke="#1f5f9a" stroke-width="2"/><circle cx="196.4" cy="159.8" r="1.7" fill="#a0a4a4"/>
<circle cx="267.6" cy="160.3" r="5.6" fill="#fff" stroke="#1f5f9a" stroke-width="2"/><circle cx="267.6" cy="160.3" r="1.7" fill="#a0a4a4"/>
<circle cx="352.8" cy="161.8" r="5.6" fill="#fff" stroke="#1f5f9a" stroke-width="2"/><circle cx="352.8" cy="161.8" r="1.7" fill="#a0a4a4"/>
<circle cx="424.1" cy="161.8" r="5.6" fill="#fff" stroke="#1f5f9a" stroke-width="2"/><circle cx="424.1" cy="161.8" r="1.7" fill="#a0a4a4"/>
<circle cx="280.6" cy="172.8" r="5.6" fill="#fff" stroke="#1f5f9a" stroke-width="2"/><circle cx="280.6" cy="172.8" r="1.7" fill="#a0a4a4"/>
<circle cx="339.9" cy="173.2" r="5.6" fill="#fff" stroke="#1f5f9a" stroke-width="2"/><circle cx="339.9" cy="173.2" r="1.7" fill="#a0a4a4"/>
<circle cx="244.3" cy="183.6" r="5.6" fill="#fff" stroke="#1f5f9a" stroke-width="2"/><circle cx="244.3" cy="183.6" r="1.7" fill="#a0a4a4"/>
<circle cx="261.6" cy="180.8" r="5.6" fill="#fff" stroke="#1f5f9a" stroke-width="2"/><circle cx="261.6" cy="180.8" r="1.7" fill="#a0a4a4"/>
<circle cx="358.2" cy="182.3" r="5.6" fill="#fff" stroke="#1f5f9a" stroke-width="2"/><circle cx="358.2" cy="182.3" r="1.7" fill="#a0a4a4"/>
<circle cx="375.5" cy="184.7" r="5.6" fill="#fff" stroke="#1f5f9a" stroke-width="2"/><circle cx="375.5" cy="184.7" r="1.7" fill="#a0a4a4"/>
<circle cx="280.6" cy="193.7" r="5.6" fill="#fff" stroke="#1f5f9a" stroke-width="2"/><circle cx="280.6" cy="193.7" r="1.7" fill="#a0a4a4"/>
<circle cx="339.9" cy="194.4" r="5.6" fill="#fff" stroke="#1f5f9a" stroke-width="2"/><circle cx="339.9" cy="194.4" r="1.7" fill="#a0a4a4"/>
<circle cx="211.9" cy="191.6" r="5.6" fill="#fff" stroke="#1f5f9a" stroke-width="2"/><circle cx="211.9" cy="191.6" r="1.7" fill="#a0a4a4"/>
<circle cx="407.9" cy="192.6" r="5.6" fill="#fff" stroke="#1f5f9a" stroke-width="2"/><circle cx="407.9" cy="192.6" r="1.7" fill="#a0a4a4"/>
<circle cx="230.3" cy="200.6" r="5.6" fill="#fff" stroke="#1f5f9a" stroke-width="2"/><circle cx="230.3" cy="200.6" r="1.7" fill="#a0a4a4"/>
<circle cx="389.5" cy="201.9" r="5.6" fill="#fff" stroke="#1f5f9a" stroke-width="2"/><circle cx="389.5" cy="201.9" r="1.7" fill="#a0a4a4"/>
<circle cx="309.7" cy="215.3" r="5.6" fill="#fff" stroke="#1f5f9a" stroke-width="2"/><circle cx="309.7" cy="215.3" r="1.7" fill="#a0a4a4"/>
<circle cx="236.3" cy="219.2" r="5.6" fill="#fff" stroke="#1f5f9a" stroke-width="2"/><circle cx="236.3" cy="219.2" r="1.7" fill="#a0a4a4"/>
<circle cx="256.8" cy="221.8" r="5.6" fill="#fff" stroke="#1f5f9a" stroke-width="2"/><circle cx="256.8" cy="221.8" r="1.7" fill="#a0a4a4"/>
<circle cx="362.6" cy="222.9" r="5.6" fill="#fff" stroke="#1f5f9a" stroke-width="2"/><circle cx="362.6" cy="222.9" r="1.7" fill="#a0a4a4"/>
<circle cx="383.1" cy="220.1" r="5.6" fill="#fff" stroke="#1f5f9a" stroke-width="2"/><circle cx="383.1" cy="220.1" r="1.7" fill="#a0a4a4"/>
<circle cx="202.9" cy="227.2" r="5.6" fill="#fff" stroke="#1f5f9a" stroke-width="2"/><circle cx="202.9" cy="227.2" r="1.7" fill="#a0a4a4"/>
<circle cx="227.7" cy="237.3" r="5.6" fill="#fff" stroke="#1f5f9a" stroke-width="2"/><circle cx="227.7" cy="237.3" r="1.7" fill="#a0a4a4"/>
<circle cx="271.5" cy="235.8" r="5.6" fill="#fff" stroke="#1f5f9a" stroke-width="2"/><circle cx="271.5" cy="235.8" r="1.7" fill="#a0a4a4"/>
<circle cx="347.5" cy="236.9" r="5.6" fill="#fff" stroke="#1f5f9a" stroke-width="2"/><circle cx="347.5" cy="236.9" r="1.7" fill="#a0a4a4"/>
<circle cx="390.6" cy="238.6" r="5.6" fill="#fff" stroke="#1f5f9a" stroke-width="2"/><circle cx="390.6" cy="238.6" r="1.7" fill="#a0a4a4"/>
<circle cx="224.4" cy="261.1" r="5.6" fill="#fff" stroke="#1f5f9a" stroke-width="2"/><circle cx="224.4" cy="261.1" r="1.7" fill="#a0a4a4"/>
<circle cx="393.4" cy="262.4" r="5.6" fill="#fff" stroke="#1f5f9a" stroke-width="2"/><circle cx="393.4" cy="262.4" r="1.7" fill="#a0a4a4"/>
<circle cx="280.6" cy="275.7" r="5.6" fill="#fff" stroke="#1f5f9a" stroke-width="2"/><circle cx="280.6" cy="275.7" r="1.7" fill="#a0a4a4"/>
<circle cx="309.3" cy="280.5" r="5.6" fill="#fff" stroke="#1f5f9a" stroke-width="2"/><circle cx="309.3" cy="280.5" r="1.7" fill="#a0a4a4"/>
<circle cx="337.7" cy="276.4" r="5.6" fill="#fff" stroke="#1f5f9a" stroke-width="2"/><circle cx="337.7" cy="276.4" r="1.7" fill="#a0a4a4"/>
<circle cx="311.4" cy="54.5" r="5.8" fill="#fff" stroke="#ee3a3c" stroke-width="1.9"/><circle cx="311.4" cy="54.5" r="1.7" fill="#a8a8a8"/>
<circle cx="271.9" cy="131.1" r="5.8" fill="#fff" stroke="#ee3a3c" stroke-width="1.9"/><circle cx="271.9" cy="131.1" r="1.7" fill="#a8a8a8"/>
<circle cx="349.0" cy="131.8" r="5.8" fill="#fff" stroke="#ee3a3c" stroke-width="1.9"/><circle cx="349.0" cy="131.8" r="1.7" fill="#a8a8a8"/>
<circle cx="309.7" cy="184.0" r="5.8" fill="#fff" stroke="#ee3a3c" stroke-width="1.9"/><circle cx="309.7" cy="184.0" r="1.7" fill="#a8a8a8"/>
<circle cx="248.2" cy="206.7" r="5.8" fill="#fff" stroke="#ee3a3c" stroke-width="1.9"/><circle cx="248.2" cy="206.7" r="1.7" fill="#a8a8a8"/>
<circle cx="371.2" cy="207.1" r="5.8" fill="#fff" stroke="#ee3a3c" stroke-width="1.9"/><circle cx="371.2" cy="207.1" r="1.7" fill="#a8a8a8"/>
<circle cx="291.8" cy="158.1" r="6" fill="#e6e07a"/><path d="M291.8,151.6 l6.5,6.5 l-6.5,6.5 l-6.5,-6.5z" fill="none" stroke="#6a8a3a" stroke-width="1"/>
<circle cx="310.1" cy="152.1" r="6" fill="#e6e07a"/><path d="M310.1,145.6 l6.5,6.5 l-6.5,6.5 l-6.5,-6.5z" fill="none" stroke="#6a8a3a" stroke-width="1"/>
<circle cx="329.1" cy="158.1" r="6" fill="#e6e07a"/><path d="M329.1,151.6 l6.5,6.5 l-6.5,6.5 l-6.5,-6.5z" fill="none" stroke="#6a8a3a" stroke-width="1"/>
<path d="M309.7,223.4 l7,12 h-14z" fill="#22c6c6" stroke="#3a8a8a" stroke-width="0.6"/><circle cx="309.7" cy="230.9" r="6" fill="#1cc4c8" stroke="#207a80" stroke-width="0.8"/>
<path d="M289.2,236.9 l7,12 h-14z" fill="#22c6c6" stroke="#3a8a8a" stroke-width="0.6"/><circle cx="289.2" cy="244.4" r="6" fill="#1cc4c8" stroke="#207a80" stroke-width="0.8"/>
<path d="M309.7,240.2 l7,12 h-14z" fill="#22c6c6" stroke="#3a8a8a" stroke-width="0.6"/><circle cx="309.7" cy="247.7" r="6" fill="#1cc4c8" stroke="#207a80" stroke-width="0.8"/>
<path d="M330.2,236.9 l7,12 h-14z" fill="#22c6c6" stroke="#3a8a8a" stroke-width="0.6"/><circle cx="330.2" cy="244.4" r="6" fill="#1cc4c8" stroke="#207a80" stroke-width="0.8"/>
<circle cx="416.5" cy="229.3" r="10.6" fill="#ff0000" stroke="#000" stroke-width="2"/>
</g>
<svg x="44.2" y="939.0" width="201.6" height="248.0" viewBox="0 0 202 248" preserveAspectRatio="none"><rect width="202" height="248" fill="url(#bg)"/><ellipse cx="16.0" cy="130" rx="12" ry="30" fill="#c6725e" filter="url(#b2)"/><ellipse cx="186.0" cy="130" rx="12" ry="30" fill="#c6725e" filter="url(#b2)"/><ellipse cx="0" cy="0" rx="40" ry="60" fill="#c6c4c2" filter="url(#b4)"/><ellipse cx="202" cy="0" rx="40" ry="60" fill="#c6c4c2" filter="url(#b4)"/><path d="M101.0,-12.0 C109.2,-12.0 137.5,-13.7 150.0,-12.0 C162.5,-10.3 169.7,-8.7 176.0,-2.0 C182.3,4.7 185.5,16.0 188.0,28.0 C190.5,40.0 190.8,56.7 191.0,70.0 C191.2,83.3 190.8,98.0 189.0,108.0 C187.2,118.0 183.2,127.7 180.0,130.0 C176.8,132.3 173.3,133.7 170.0,122.0 C166.7,110.3 166.7,75.3 160.0,60.0 C153.3,44.7 144.7,35.0 130.0,30.0 C115.3,25.0 86.7,25.0 72.0,30.0 C57.3,35.0 48.7,44.7 42.0,60.0 C35.3,75.3 35.3,110.3 32.0,122.0 C28.7,133.7 25.2,132.3 22.0,130.0 C18.8,127.7 14.8,118.0 13.0,108.0 C11.2,98.0 10.8,83.3 11.0,70.0 C11.2,56.7 11.5,40.0 14.0,28.0 C16.5,16.0 19.7,4.7 26.0,-2.0 C32.3,-8.7 39.5,-10.3 52.0,-12.0 C64.5,-13.7 92.8,-12.0 101.0,-12.0 C109.2,-12.0 92.8,-12.0 101.0,-12.0Z" fill="#5c4434" filter="url(#b3)"/><path d="M24,130 C18,70 40,24 101,20 C162,24 184,70 178,130" stroke="#3c2a1e" stroke-width="16" fill="none" opacity="0.7" filter="url(#b3)"/><path d="M28,252 C34,232 42,205 46,178 L156,178 C160,205 168,232 174,252 Z" fill="#b47458" filter="url(#b3)"/><path d="M0,238 C25,232 45,242 55,250 L0,250 Z M202,238 C177,232 157,242 147,250 L202,250 Z" fill="#b9aeaa" filter="url(#b2)"/><path d="M101.0,26.0 C114.0,26.0 129.5,24.3 140.0,27.0 C150.5,29.7 158.3,34.2 164.0,42.0 C169.7,49.8 172.0,61.0 174.0,74.0 C176.0,87.0 177.2,105.3 176.0,120.0 C174.8,134.7 170.2,150.0 167.0,162.0 C163.8,174.0 161.0,183.5 157.0,192.0 C153.0,200.5 148.5,206.8 143.0,213.0 C137.5,219.2 131.0,225.7 124.0,229.0 C117.0,232.3 108.7,233.0 101.0,233.0 C93.3,233.0 85.0,232.3 78.0,229.0 C71.0,225.7 64.5,219.2 59.0,213.0 C53.5,206.8 49.0,200.5 45.0,192.0 C41.0,183.5 38.2,174.0 35.0,162.0 C31.8,150.0 27.2,134.7 26.0,120.0 C24.8,105.3 26.0,87.0 28.0,74.0 C30.0,61.0 32.3,49.8 38.0,42.0 C43.7,34.2 51.5,29.7 62.0,27.0 C72.5,24.3 88.0,26.0 101.0,26.0Z" fill="url(#skin)" filter="url(#b2)"/><ellipse cx="112" cy="48" rx="40" ry="18" fill="#f0b498" opacity="0.6" filter="url(#b4)"/><path d="M40.0,180 C58.0,232 144.0,232 162.0,180" stroke="#9e6450" stroke-width="9" fill="none" opacity="0.3" filter="url(#b3)"/><ellipse cx="52" cy="150" rx="24" ry="17" fill="#ee8c84" opacity="0.35" filter="url(#b3)"/><ellipse cx="150" cy="150" rx="24" ry="17" fill="#ee8c84" opacity="0.35" filter="url(#b3)"/><ellipse cx="65" cy="104" rx="28" ry="17" fill="#7a3e32" opacity="0.6" filter="url(#b3)"/><ellipse cx="137" cy="104" rx="28" ry="17" fill="#7a3e32" opacity="0.6" filter="url(#b3)"/><path d="M36,92.0 C48,84.0 70,83.0 87,90.0 M115,90.0 C132,83.0 154,84.0 166,92.0" stroke="#4e2e22" stroke-width="5.5" fill="none" opacity="0.9" filter="url(#b2b)"/><path d="M47.0,109 C56.0,101 75.0,100 85.0,108 C75.0,115 56.0,116 47.0,109 Z" fill="#8e7066" filter="url(#b1)"/><ellipse cx="66.0" cy="108" rx="9.5" ry="6.5" fill="#1e120e" filter="url(#b1)"/><path d="M47.0,108 C56.0,100 75.0,99 85.0,107" stroke="#24140f" stroke-width="3" fill="none" filter="url(#b1)"/><path d="M117.0,109 C126.0,101 145.0,100 155.0,108 C145.0,115 126.0,116 117.0,109 Z" fill="#8e7066" filter="url(#b1)"/><ellipse cx="136.0" cy="108" rx="9.5" ry="6.5" fill="#1e120e" filter="url(#b1)"/><path d="M117.0,108 C126.0,100 145.0,99 155.0,107" stroke="#24140f" stroke-width="3" fill="none" filter="url(#b1)"/><ellipse cx="101" cy="132" rx="9" ry="26" fill="#f0bca4" opacity="0.6" filter="url(#b2)"/><ellipse cx="101" cy="164" rx="19.0" ry="5" fill="#8a4a3a" opacity="0.55" filter="url(#b2)"/><ellipse cx="83.0" cy="156" rx="5" ry="9" fill="#94503f" opacity="0.7" filter="url(#b2)"/><ellipse cx="119.0" cy="156" rx="5" ry="9" fill="#94503f" opacity="0.7" filter="url(#b2)"/><ellipse cx="101" cy="150" rx="11.0" ry="10" fill="#f2b498" opacity="0.9" filter="url(#b2)"/><ellipse cx="91" cy="162" rx="4" ry="2.2" fill="#6a3a30" opacity="0.8" filter="url(#b1)"/><ellipse cx="111" cy="162" rx="4" ry="2.2" fill="#6a3a30" opacity="0.8" filter="url(#b1)"/><path d="M70.0,182.0 C88,179.0 96,178.0 101,179.0 C106,178.0 114,179.0 132.0,182.0 C120,196.0 82,196.0 70.0,182.0 Z" fill="#c65a58" filter="url(#b1)"/><path d="M69.0,181.0 C88,183.0 96,186.0 101,186.0 C106,186.0 114,183.0 133.0,181.0" stroke="#862a2a" stroke-width="2.8" fill="none" filter="url(#b1)"/></svg>
<rect x="44.6" y="1202.5" width="198.2" height="12.8" fill="#ff0000"/>
<svg x="347.4" y="941.0" width="201.3" height="247.0" viewBox="0 0 202 248" preserveAspectRatio="none"><rect width="202" height="248" fill="url(#bg)"/><ellipse cx="15.1" cy="130" rx="12" ry="30" fill="#c6725e" filter="url(#b2)"/><ellipse cx="186.9" cy="130" rx="12" ry="30" fill="#c6725e" filter="url(#b2)"/><ellipse cx="0" cy="0" rx="40" ry="60" fill="#c6c4c2" filter="url(#b4)"/><ellipse cx="202" cy="0" rx="40" ry="60" fill="#c6c4c2" filter="url(#b4)"/><path d="M101.0,-12.0 C109.2,-12.0 137.5,-13.7 150.0,-12.0 C162.5,-10.3 169.7,-8.7 176.0,-2.0 C182.3,4.7 185.5,16.0 188.0,28.0 C190.5,40.0 190.8,56.7 191.0,70.0 C191.2,83.3 190.8,98.0 189.0,108.0 C187.2,118.0 183.2,127.7 180.0,130.0 C176.8,132.3 173.3,133.7 170.0,122.0 C166.7,110.3 166.7,75.3 160.0,60.0 C153.3,44.7 144.7,35.0 130.0,30.0 C115.3,25.0 86.7,25.0 72.0,30.0 C57.3,35.0 48.7,44.7 42.0,60.0 C35.3,75.3 35.3,110.3 32.0,122.0 C28.7,133.7 25.2,132.3 22.0,130.0 C18.8,127.7 14.8,118.0 13.0,108.0 C11.2,98.0 10.8,83.3 11.0,70.0 C11.2,56.7 11.5,40.0 14.0,28.0 C16.5,16.0 19.7,4.7 26.0,-2.0 C32.3,-8.7 39.5,-10.3 52.0,-12.0 C64.5,-13.7 92.8,-12.0 101.0,-12.0 C109.2,-12.0 92.8,-12.0 101.0,-12.0Z" fill="#5c4434" filter="url(#b3)"/><path d="M24,130 C18,70 40,24 101,20 C162,24 184,70 178,130" stroke="#3c2a1e" stroke-width="16" fill="none" opacity="0.7" filter="url(#b3)"/><path d="M28,252 C34,232 42,205 46,178 L156,178 C160,205 168,232 174,252 Z" fill="#b47458" filter="url(#b3)"/><path d="M0,238 C25,232 45,242 55,250 L0,250 Z M202,238 C177,232 157,242 147,250 L202,250 Z" fill="#b9aeaa" filter="url(#b2)"/><path d="M101.0,26.0 C114.0,26.0 129.5,24.3 140.0,27.0 C150.5,29.7 158.3,34.2 164.0,42.0 C169.7,49.8 171.8,61.0 174.0,74.0 C176.2,87.0 178.2,105.3 177.5,120.0 C176.8,134.7 172.5,150.0 169.7,162.0 C166.9,174.0 164.1,183.5 160.6,192.0 C157.1,200.5 153.8,206.8 148.4,213.0 C143.0,219.2 136.1,225.6 128.2,229.0 C120.3,232.4 110.1,233.6 101.0,233.6 C91.9,233.6 81.7,232.4 73.8,229.0 C65.9,225.6 59.0,219.2 53.6,213.0 C48.2,206.8 45.0,200.5 41.4,192.0 C37.9,183.5 35.1,174.0 32.3,162.0 C29.5,150.0 25.2,134.7 24.5,120.0 C23.8,105.3 25.8,87.0 28.0,74.0 C30.2,61.0 32.3,49.8 38.0,42.0 C43.7,34.2 51.5,29.7 62.0,27.0 C72.5,24.3 88.0,26.0 101.0,26.0Z" fill="url(#skin)" filter="url(#b2)"/><ellipse cx="112" cy="48" rx="40" ry="18" fill="#f0b498" opacity="0.6" filter="url(#b4)"/><path d="M38.2,180 C55.6,232 146.4,232 163.8,180" stroke="#9e6450" stroke-width="9" fill="none" opacity="0.3" filter="url(#b3)"/><ellipse cx="52" cy="150" rx="24" ry="17" fill="#ee8c84" opacity="0.35" filter="url(#b3)"/><ellipse cx="150" cy="150" rx="24" ry="17" fill="#ee8c84" opacity="0.35" filter="url(#b3)"/><ellipse cx="65" cy="104" rx="28" ry="17" fill="#7a3e32" opacity="0.6" filter="url(#b3)"/><ellipse cx="137" cy="104" rx="28" ry="17" fill="#7a3e32" opacity="0.6" filter="url(#b3)"/><path d="M36,93.8 C48,86.2 70,85.2 87,91.4 M115,91.4 C132,85.2 154,86.2 166,93.8" stroke="#4e2e22" stroke-width="5.5" fill="none" opacity="0.9" filter="url(#b2b)"/><path d="M47.0,109 C56.0,101 75.0,100 85.0,108 C75.0,115 56.0,116 47.0,109 Z" fill="#8e7066" filter="url(#b1)"/><ellipse cx="66.0" cy="108" rx="9.5" ry="6.5" fill="#1e120e" filter="url(#b1)"/><path d="M47.0,108 C56.0,100 75.0,99 85.0,107" stroke="#24140f" stroke-width="3" fill="none" filter="url(#b1)"/><path d="M117.0,109 C126.0,101 145.0,100 155.0,108 C145.0,115 126.0,116 117.0,109 Z" fill="#8e7066" filter="url(#b1)"/><ellipse cx="136.0" cy="108" rx="9.5" ry="6.5" fill="#1e120e" filter="url(#b1)"/><path d="M117.0,108 C126.0,100 145.0,99 155.0,107" stroke="#24140f" stroke-width="3" fill="none" filter="url(#b1)"/><ellipse cx="101" cy="132" rx="9" ry="26" fill="#f0bca4" opacity="0.6" filter="url(#b2)"/><ellipse cx="101" cy="164" rx="19.9" ry="5" fill="#8a4a3a" opacity="0.55" filter="url(#b2)"/><ellipse cx="82.1" cy="156" rx="5" ry="9" fill="#94503f" opacity="0.7" filter="url(#b2)"/><ellipse cx="119.9" cy="156" rx="5" ry="9" fill="#94503f" opacity="0.7" filter="url(#b2)"/><ellipse cx="101" cy="150" rx="11.9" ry="10" fill="#f2b498" opacity="0.9" filter="url(#b2)"/><ellipse cx="91" cy="162" rx="4" ry="2.2" fill="#6a3a30" opacity="0.8" filter="url(#b1)"/><ellipse cx="111" cy="162" rx="4" ry="2.2" fill="#6a3a30" opacity="0.8" filter="url(#b1)"/><path d="M71.5,181.7 C88,178.1 96,177.1 101,178.1 C106,177.1 114,178.1 130.8,181.7 C120,196.3 82,196.3 71.5,181.7 Z" fill="#c65a58" filter="url(#b1)"/><path d="M70.5,180.7 C88,182.7 96,185.7 101,185.7 C106,185.7 114,182.7 131.8,180.7" stroke="#862a2a" stroke-width="2.8" fill="none" filter="url(#b1)"/></svg>
<rect x="349.3" y="1202.5" width="198.3" height="12.8" fill="#0000ff"/>
<svg x="649.5" y="941.9" width="200.5" height="247.4" viewBox="0 0 202 248" preserveAspectRatio="none"><rect width="202" height="248" fill="url(#bg)"/><ellipse cx="14.7" cy="130" rx="12" ry="30" fill="#c6725e" filter="url(#b2)"/><ellipse cx="187.3" cy="130" rx="12" ry="30" fill="#c6725e" filter="url(#b2)"/><ellipse cx="0" cy="0" rx="40" ry="60" fill="#c6c4c2" filter="url(#b4)"/><ellipse cx="202" cy="0" rx="40" ry="60" fill="#c6c4c2" filter="url(#b4)"/><path d="M101.0,-12.0 C109.2,-12.0 137.5,-13.7 150.0,-12.0 C162.5,-10.3 169.7,-8.7 176.0,-2.0 C182.3,4.7 185.5,16.0 188.0,28.0 C190.5,40.0 190.8,56.7 191.0,70.0 C191.2,83.3 190.8,98.0 189.0,108.0 C187.2,118.0 183.2,127.7 180.0,130.0 C176.8,132.3 173.3,133.7 170.0,122.0 C166.7,110.3 166.7,75.3 160.0,60.0 C153.3,44.7 144.7,35.0 130.0,30.0 C115.3,25.0 86.7,25.0 72.0,30.0 C57.3,35.0 48.7,44.7 42.0,60.0 C35.3,75.3 35.3,110.3 32.0,122.0 C28.7,133.7 25.2,132.3 22.0,130.0 C18.8,127.7 14.8,118.0 13.0,108.0 C11.2,98.0 10.8,83.3 11.0,70.0 C11.2,56.7 11.5,40.0 14.0,28.0 C16.5,16.0 19.7,4.7 26.0,-2.0 C32.3,-8.7 39.5,-10.3 52.0,-12.0 C64.5,-13.7 92.8,-12.0 101.0,-12.0 C109.2,-12.0 92.8,-12.0 101.0,-12.0Z" fill="#5c4434" filter="url(#b3)"/><path d="M24,130 C18,70 40,24 101,20 C162,24 184,70 178,130" stroke="#3c2a1e" stroke-width="16" fill="none" opacity="0.7" filter="url(#b3)"/><path d="M28,252 C34,232 42,205 46,178 L156,178 C160,205 168,232 174,252 Z" fill="#b47458" filter="url(#b3)"/><path d="M0,238 C25,232 45,242 55,250 L0,250 Z M202,238 C177,232 157,242 147,250 L202,250 Z" fill="#b9aeaa" filter="url(#b2)"/><path d="M101.0,26.0 C114.0,26.0 129.5,24.3 140.0,27.0 C150.5,29.7 158.3,34.2 164.0,42.0 C169.7,49.8 171.6,61.0 174.0,74.0 C176.4,87.0 178.7,105.3 178.2,120.0 C177.8,134.7 173.7,150.0 171.1,162.0 C168.4,174.0 165.7,183.5 162.4,192.0 C159.1,200.5 156.4,206.8 151.1,213.0 C145.8,219.2 138.7,225.5 130.3,229.0 C122.0,232.5 110.8,233.9 101.0,233.9 C91.2,233.9 80.0,232.5 71.7,229.0 C63.3,225.5 56.3,219.2 50.9,213.0 C45.6,206.8 42.9,200.5 39.6,192.0 C36.3,183.5 33.6,174.0 30.9,162.0 C28.3,150.0 24.2,134.7 23.8,120.0 C23.3,105.3 25.6,87.0 28.0,74.0 C30.4,61.0 32.3,49.8 38.0,42.0 C43.7,34.2 51.5,29.7 62.0,27.0 C72.5,24.3 88.0,26.0 101.0,26.0Z" fill="url(#skin)" filter="url(#b2)"/><ellipse cx="112" cy="48" rx="40" ry="18" fill="#f0b498" opacity="0.6" filter="url(#b4)"/><path d="M37.3,180 C54.4,232 147.6,232 164.7,180" stroke="#9e6450" stroke-width="9" fill="none" opacity="0.3" filter="url(#b3)"/><ellipse cx="52" cy="150" rx="24" ry="17" fill="#ee8c84" opacity="0.35" filter="url(#b3)"/><ellipse cx="150" cy="150" rx="24" ry="17" fill="#ee8c84" opacity="0.35" filter="url(#b3)"/><ellipse cx="65" cy="104" rx="28" ry="17" fill="#7a3e32" opacity="0.6" filter="url(#b3)"/><ellipse cx="137" cy="104" rx="28" ry="17" fill="#7a3e32" opacity="0.6" filter="url(#b3)"/><path d="M36,94.7 C48,87.2 70,86.2 87,92.2 M115,92.2 C132,86.2 154,87.2 166,94.7" stroke="#4e2e22" stroke-width="5.5" fill="none" opacity="0.9" filter="url(#b2b)"/><path d="M47.0,109 C56.0,101 75.0,100 85.0,108 C75.0,115 56.0,116 47.0,109 Z" fill="#8e7066" filter="url(#b1)"/><ellipse cx="66.0" cy="108" rx="9.5" ry="6.5" fill="#1e120e" filter="url(#b1)"/><path d="M47.0,108 C56.0,100 75.0,99 85.0,107" stroke="#24140f" stroke-width="3" fill="none" filter="url(#b1)"/><path d="M117.0,109 C126.0,101 145.0,100 155.0,108 C145.0,115 126.0,116 117.0,109 Z" fill="#8e7066" filter="url(#b1)"/><ellipse cx="136.0" cy="108" rx="9.5" ry="6.5" fill="#1e120e" filter="url(#b1)"/><path d="M117.0,108 C126.0,100 145.0,99 155.0,107" stroke="#24140f" stroke-width="3" fill="none" filter="url(#b1)"/><ellipse cx="101" cy="132" rx="9" ry="26" fill="#f0bca4" opacity="0.6" filter="url(#b2)"/><ellipse cx="101" cy="164" rx="20.4" ry="5" fill="#8a4a3a" opacity="0.55" filter="url(#b2)"/><ellipse cx="81.7" cy="156" rx="5" ry="9" fill="#94503f" opacity="0.7" filter="url(#b2)"/><ellipse cx="120.3" cy="156" rx="5" ry="9" fill="#94503f" opacity="0.7" filter="url(#b2)"/><ellipse cx="101" cy="150" rx="12.3" ry="10" fill="#f2b498" opacity="0.9" filter="url(#b2)"/><ellipse cx="91" cy="162" rx="4" ry="2.2" fill="#6a3a30" opacity="0.8" filter="url(#b1)"/><ellipse cx="111" cy="162" rx="4" ry="2.2" fill="#6a3a30" opacity="0.8" filter="url(#b1)"/><path d="M72.2,181.6 C88,177.7 96,176.7 101,177.7 C106,176.7 114,177.7 130.2,181.6 C120,196.5 82,196.5 72.2,181.6 Z" fill="#c65a58" filter="url(#b1)"/><path d="M71.2,180.6 C88,182.6 96,185.6 101,185.6 C106,185.6 114,182.6 131.2,180.6" stroke="#862a2a" stroke-width="2.8" fill="none" filter="url(#b1)"/></svg>
<rect x="651.3" y="1203.2" width="197.9" height="13.2" fill="#ff00ff"/>
<svg x="949.7" y="940.0" width="201.6" height="247.4" viewBox="0 0 202 248" preserveAspectRatio="none"><rect width="202" height="248" fill="url(#bg)"/><ellipse cx="13.9" cy="130" rx="12" ry="30" fill="#c6725e" filter="url(#b2)"/><ellipse cx="188.1" cy="130" rx="12" ry="30" fill="#c6725e" filter="url(#b2)"/><ellipse cx="0" cy="0" rx="40" ry="60" fill="#c6c4c2" filter="url(#b4)"/><ellipse cx="202" cy="0" rx="40" ry="60" fill="#c6c4c2" filter="url(#b4)"/><path d="M101.0,-12.0 C109.2,-12.0 137.5,-13.7 150.0,-12.0 C162.5,-10.3 169.7,-8.7 176.0,-2.0 C182.3,4.7 185.5,16.0 188.0,28.0 C190.5,40.0 190.8,56.7 191.0,70.0 C191.2,83.3 190.8,98.0 189.0,108.0 C187.2,118.0 183.2,127.7 180.0,130.0 C176.8,132.3 173.3,133.7 170.0,122.0 C166.7,110.3 166.7,75.3 160.0,60.0 C153.3,44.7 144.7,35.0 130.0,30.0 C115.3,25.0 86.7,25.0 72.0,30.0 C57.3,35.0 48.7,44.7 42.0,60.0 C35.3,75.3 35.3,110.3 32.0,122.0 C28.7,133.7 25.2,132.3 22.0,130.0 C18.8,127.7 14.8,118.0 13.0,108.0 C11.2,98.0 10.8,83.3 11.0,70.0 C11.2,56.7 11.5,40.0 14.0,28.0 C16.5,16.0 19.7,4.7 26.0,-2.0 C32.3,-8.7 39.5,-10.3 52.0,-12.0 C64.5,-13.7 92.8,-12.0 101.0,-12.0 C109.2,-12.0 92.8,-12.0 101.0,-12.0Z" fill="#5c4434" filter="url(#b3)"/><path d="M24,130 C18,70 40,24 101,20 C162,24 184,70 178,130" stroke="#3c2a1e" stroke-width="16" fill="none" opacity="0.7" filter="url(#b3)"/><path d="M28,252 C34,232 42,205 46,178 L156,178 C160,205 168,232 174,252 Z" fill="#b47458" filter="url(#b3)"/><path d="M0,238 C25,232 45,242 55,250 L0,250 Z M202,238 C177,232 157,242 147,250 L202,250 Z" fill="#b9aeaa" filter="url(#b2)"/><path d="M101.0,26.0 C114.0,26.0 129.5,24.3 140.0,27.0 C150.5,29.7 158.3,34.2 164.0,42.0 C169.7,49.8 171.4,61.0 174.0,74.0 C176.6,87.0 179.6,105.3 179.5,120.0 C179.4,134.7 175.7,150.0 173.3,162.0 C171.0,174.0 168.4,183.5 165.4,192.0 C162.4,200.5 160.9,206.8 155.6,213.0 C150.3,219.2 142.9,225.4 133.8,229.0 C124.7,232.6 111.9,234.4 101.0,234.4 C90.1,234.4 77.3,232.6 68.2,229.0 C59.1,225.4 51.7,219.2 46.4,213.0 C41.1,206.8 39.5,200.5 36.6,192.0 C33.6,183.5 31.0,174.0 28.7,162.0 C26.3,150.0 22.6,134.7 22.5,120.0 C22.4,105.3 25.4,87.0 28.0,74.0 C30.6,61.0 32.3,49.8 38.0,42.0 C43.7,34.2 51.5,29.7 62.0,27.0 C72.5,24.3 88.0,26.0 101.0,26.0Z" fill="url(#skin)" filter="url(#b2)"/><ellipse cx="112" cy="48" rx="40" ry="18" fill="#f0b498" opacity="0.6" filter="url(#b4)"/><path d="M35.8,180 C52.4,232 149.6,232 166.2,180" stroke="#9e6450" stroke-width="9" fill="none" opacity="0.3" filter="url(#b3)"/><ellipse cx="52" cy="150" rx="24" ry="17" fill="#ee8c84" opacity="0.35" filter="url(#b3)"/><ellipse cx="150" cy="150" rx="24" ry="17" fill="#ee8c84" opacity="0.35" filter="url(#b3)"/><ellipse cx="65" cy="104" rx="28" ry="17" fill="#7a3e32" opacity="0.6" filter="url(#b3)"/><ellipse cx="137" cy="104" rx="28" ry="17" fill="#7a3e32" opacity="0.6" filter="url(#b3)"/><path d="M36,96.2 C48,89.0 70,88.0 87,93.4 M115,93.4 C132,88.0 154,89.0 166,96.2" stroke="#4e2e22" stroke-width="5.5" fill="none" opacity="0.9" filter="url(#b2b)"/><path d="M47.0,109 C56.0,101 75.0,100 85.0,108 C75.0,115 56.0,116 47.0,109 Z" fill="#8e7066" filter="url(#b1)"/><ellipse cx="66.0" cy="108" rx="9.5" ry="6.5" fill="#1e120e" filter="url(#b1)"/><path d="M47.0,108 C56.0,100 75.0,99 85.0,107" stroke="#24140f" stroke-width="3" fill="none" filter="url(#b1)"/><path d="M117.0,109 C126.0,101 145.0,100 155.0,108 C145.0,115 126.0,116 117.0,109 Z" fill="#8e7066" filter="url(#b1)"/><ellipse cx="136.0" cy="108" rx="9.5" ry="6.5" fill="#1e120e" filter="url(#b1)"/><path d="M117.0,108 C126.0,100 145.0,99 155.0,107" stroke="#24140f" stroke-width="3" fill="none" filter="url(#b1)"/><ellipse cx="101" cy="132" rx="9" ry="26" fill="#f0bca4" opacity="0.6" filter="url(#b2)"/><ellipse cx="101" cy="164" rx="21.1" ry="5" fill="#8a4a3a" opacity="0.55" filter="url(#b2)"/><ellipse cx="80.9" cy="156" rx="5" ry="9" fill="#94503f" opacity="0.7" filter="url(#b2)"/><ellipse cx="121.1" cy="156" rx="5" ry="9" fill="#94503f" opacity="0.7" filter="url(#b2)"/><ellipse cx="101" cy="150" rx="13.1" ry="10" fill="#f2b498" opacity="0.9" filter="url(#b2)"/><ellipse cx="91" cy="162" rx="4" ry="2.2" fill="#6a3a30" opacity="0.8" filter="url(#b1)"/><ellipse cx="111" cy="162" rx="4" ry="2.2" fill="#6a3a30" opacity="0.8" filter="url(#b1)"/><path d="M73.5,181.3 C88,176.9 96,175.9 101,176.9 C106,175.9 114,176.9 129.2,181.3 C120,196.7 82,196.7 73.5,181.3 Z" fill="#c65a58" filter="url(#b1)"/><path d="M72.5,180.3 C88,182.3 96,185.3 101,185.3 C106,185.3 114,182.3 130.2,180.3" stroke="#862a2a" stroke-width="2.8" fill="none" filter="url(#b1)"/></svg>
<rect x="951.2" y="1201.3" width="198.3" height="12.5" fill="#8b3a00"/>
<svg x="1252.7" y="940.2" width="201.7" height="246.8" viewBox="0 0 202 248" preserveAspectRatio="none"><rect width="202" height="248" fill="url(#bg)"/><ellipse cx="13.0" cy="130" rx="12" ry="30" fill="#c6725e" filter="url(#b2)"/><ellipse cx="189.0" cy="130" rx="12" ry="30" fill="#c6725e" filter="url(#b2)"/><ellipse cx="0" cy="0" rx="40" ry="60" fill="#c6c4c2" filter="url(#b4)"/><ellipse cx="202" cy="0" rx="40" ry="60" fill="#c6c4c2" filter="url(#b4)"/><path d="M101.0,-12.0 C109.2,-12.0 137.5,-13.7 150.0,-12.0 C162.5,-10.3 169.7,-8.7 176.0,-2.0 C182.3,4.7 185.5,16.0 188.0,28.0 C190.5,40.0 190.8,56.7 191.0,70.0 C191.2,83.3 190.8,98.0 189.0,108.0 C187.2,118.0 183.2,127.7 180.0,130.0 C176.8,132.3 173.3,133.7 170.0,122.0 C166.7,110.3 166.7,75.3 160.0,60.0 C153.3,44.7 144.7,35.0 130.0,30.0 C115.3,25.0 86.7,25.0 72.0,30.0 C57.3,35.0 48.7,44.7 42.0,60.0 C35.3,75.3 35.3,110.3 32.0,122.0 C28.7,133.7 25.2,132.3 22.0,130.0 C18.8,127.7 14.8,118.0 13.0,108.0 C11.2,98.0 10.8,83.3 11.0,70.0 C11.2,56.7 11.5,40.0 14.0,28.0 C16.5,16.0 19.7,4.7 26.0,-2.0 C32.3,-8.7 39.5,-10.3 52.0,-12.0 C64.5,-13.7 92.8,-12.0 101.0,-12.0 C109.2,-12.0 92.8,-12.0 101.0,-12.0Z" fill="#5c4434" filter="url(#b3)"/><path d="M24,130 C18,70 40,24 101,20 C162,24 184,70 178,130" stroke="#3c2a1e" stroke-width="16" fill="none" opacity="0.7" filter="url(#b3)"/><path d="M28,252 C34,232 42,205 46,178 L156,178 C160,205 168,232 174,252 Z" fill="#b47458" filter="url(#b3)"/><path d="M0,238 C25,232 45,242 55,250 L0,250 Z M202,238 C177,232 157,242 147,250 L202,250 Z" fill="#b9aeaa" filter="url(#b2)"/><path d="M101.0,26.0 C114.0,26.0 129.5,24.3 140.0,27.0 C150.5,29.7 158.3,34.2 164.0,42.0 C169.7,49.8 171.2,61.0 174.0,74.0 C176.8,87.0 180.7,105.3 181.0,120.0 C181.3,134.7 178.0,150.0 176.0,162.0 C174.0,174.0 171.5,183.5 169.0,192.0 C166.5,200.5 166.2,206.8 161.0,213.0 C155.8,219.2 148.0,225.3 138.0,229.0 C128.0,232.7 113.3,235.0 101.0,235.0 C88.7,235.0 74.0,232.7 64.0,229.0 C54.0,225.3 46.2,219.2 41.0,213.0 C35.8,206.8 35.5,200.5 33.0,192.0 C30.5,183.5 28.0,174.0 26.0,162.0 C24.0,150.0 20.7,134.7 21.0,120.0 C21.3,105.3 25.2,87.0 28.0,74.0 C30.8,61.0 32.3,49.8 38.0,42.0 C43.7,34.2 51.5,29.7 62.0,27.0 C72.5,24.3 88.0,26.0 101.0,26.0Z" fill="url(#skin)" filter="url(#b2)"/><ellipse cx="112" cy="48" rx="40" ry="18" fill="#f0b498" opacity="0.6" filter="url(#b4)"/><path d="M34.0,180 C50.0,232 152.0,232 168.0,180" stroke="#9e6450" stroke-width="9" fill="none" opacity="0.3" filter="url(#b3)"/><ellipse cx="52" cy="150" rx="24" ry="17" fill="#ee8c84" opacity="0.35" filter="url(#b3)"/><ellipse cx="150" cy="150" rx="24" ry="17" fill="#ee8c84" opacity="0.35" filter="url(#b3)"/><ellipse cx="65" cy="104" rx="28" ry="17" fill="#7a3e32" opacity="0.6" filter="url(#b3)"/><ellipse cx="137" cy="104" rx="28" ry="17" fill="#7a3e32" opacity="0.6" filter="url(#b3)"/><path d="M36,98.0 C48,91.2 70,90.2 87,94.8 M115,94.8 C132,90.2 154,91.2 166,98.0" stroke="#4e2e22" stroke-width="5.5" fill="none" opacity="0.9" filter="url(#b2b)"/><path d="M47.0,109 C56.0,101 75.0,100 85.0,108 C75.0,115 56.0,116 47.0,109 Z" fill="#8e7066" filter="url(#b1)"/><ellipse cx="66.0" cy="108" rx="9.5" ry="6.5" fill="#1e120e" filter="url(#b1)"/><path d="M47.0,108 C56.0,100 75.0,99 85.0,107" stroke="#24140f" stroke-width="3" fill="none" filter="url(#b1)"/><path d="M117.0,109 C126.0,101 145.0,100 155.0,108 C145.0,115 126.0,116 117.0,109 Z" fill="#8e7066" filter="url(#b1)"/><ellipse cx="136.0" cy="108" rx="9.5" ry="6.5" fill="#1e120e" filter="url(#b1)"/><path d="M117.0,108 C126.0,100 145.0,99 155.0,107" stroke="#24140f" stroke-width="3" fill="none" filter="url(#b1)"/><ellipse cx="101" cy="132" rx="9" ry="26" fill="#f0bca4" opacity="0.6" filter="url(#b2)"/><ellipse cx="101" cy="164" rx="22.0" ry="5" fill="#8a4a3a" opacity="0.55" filter="url(#b2)"/><ellipse cx="80.0" cy="156" rx="5" ry="9" fill="#94503f" opacity="0.7" filter="url(#b2)"/><ellipse cx="122.0" cy="156" rx="5" ry="9" fill="#94503f" opacity="0.7" filter="url(#b2)"/><ellipse cx="101" cy="150" rx="14.0" ry="10" fill="#f2b498" opacity="0.9" filter="url(#b2)"/><ellipse cx="91" cy="162" rx="4" ry="2.2" fill="#6a3a30" opacity="0.8" filter="url(#b1)"/><ellipse cx="111" cy="162" rx="4" ry="2.2" fill="#6a3a30" opacity="0.8" filter="url(#b1)"/><path d="M75.0,181.0 C88,176.0 96,175.0 101,176.0 C106,175.0 114,176.0 128.0,181.0 C120,197.0 82,197.0 75.0,181.0 Z" fill="#c65a58" filter="url(#b1)"/><path d="M74.0,180.0 C88,182.0 96,185.0 101,185.0 C106,185.0 114,182.0 129.0,180.0" stroke="#862a2a" stroke-width="2.8" fill="none" filter="url(#b1)"/></svg>
<rect x="1254.0" y="1201.1" width="198.4" height="12.6" fill="#bfbfbf"/>
<text x="24.60" y="336.90" font-size="45.5" textLength="78.60" lengthAdjust="spacingAndGlyphs" stroke="#000" stroke-width="0.35">1&#956;V</text>
<text x="550.00" y="57.20" font-size="46.0" textLength="105.80" lengthAdjust="spacingAndGlyphs" stroke="#000" stroke-width="0.35">N170</text>
<text x="688.00" y="57.20" font-size="46.0" textLength="97.40" lengthAdjust="spacingAndGlyphs" stroke="#000" stroke-width="0.35">P200</text>
<text x="814.20" y="57.20" font-size="46.0" textLength="105.20" lengthAdjust="spacingAndGlyphs" stroke="#000" stroke-width="0.35">N300</text>
<text x="955.40" y="195.70" font-size="32.5" textLength="460.40" lengthAdjust="spacingAndGlyphs" stroke="#000" stroke-width="0.35">Right occipitotemporal electrode</text>
<text x="1135.20" y="240.80" font-size="32.5" textLength="105.80" lengthAdjust="spacingAndGlyphs" stroke="#000" stroke-width="0.35">(n = 40)</text>
<text x="291.60" y="876.50" font-size="46.0" textLength="94.40" lengthAdjust="spacingAndGlyphs" stroke="#000" stroke-width="0.35">0 ms</text>
<text x="657.00" y="876.50" font-size="46.0" textLength="140.80" lengthAdjust="spacingAndGlyphs" stroke="#000" stroke-width="0.35">200 ms</text>
<text x="857.00" y="876.50" font-size="46.0" textLength="141.00" lengthAdjust="spacingAndGlyphs" stroke="#000" stroke-width="0.35">300 ms</text>
<text x="1270.00" y="876.50" font-size="46.0" textLength="140.20" lengthAdjust="spacingAndGlyphs" stroke="#000" stroke-width="0.35">500 ms</text>
<text x="92.80" y="1254.00" font-size="46.0" textLength="101.40" lengthAdjust="spacingAndGlyphs" stroke="#000" stroke-width="0.35">-5 SD</text>
<text x="394.00" y="1254.00" font-size="46.0" textLength="104.40" lengthAdjust="spacingAndGlyphs" stroke="#000" stroke-width="0.35">-2 SD</text>
<text x="733.40" y="1254.00" font-size="46.0" textLength="26.80" lengthAdjust="spacingAndGlyphs" stroke="#000" stroke-width="0.35">0</text>
<text x="991.20" y="1254.00" font-size="46.0" textLength="112.80" lengthAdjust="spacingAndGlyphs" stroke="#000" stroke-width="0.35">+2 SD</text>
<text x="1293.40" y="1254.00" font-size="46.0" textLength="113.00" lengthAdjust="spacingAndGlyphs" stroke="#000" stroke-width="0.35">+5 SD</text>
</svg></body></html>
